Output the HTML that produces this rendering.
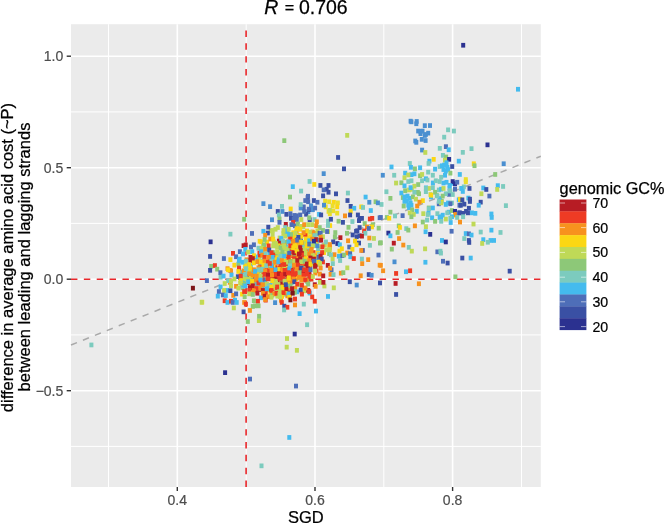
<!DOCTYPE html>
<html><head><meta charset="utf-8"><title>R = 0.706</title>
<style>
html,body{margin:0;padding:0;background:#fff;}
svg{display:block;font-family:"Liberation Sans",sans-serif;}
.tk{font-size:14px;fill:#4d4d4d;stroke:#4d4d4d;stroke-width:0.2px;}
.lg{font-size:14.2px;fill:#000;stroke:#000;stroke-width:0.2px;}
.ax{font-size:16.5px;fill:#000;stroke:#000;stroke-width:0.25px;}
</style></head><body>
<svg width="666" height="523" viewBox="0 0 666 523">
<rect width="666" height="523" fill="#fff"/>
<rect x="71.0" y="24.2" width="469.8" height="462.8" fill="#ebebeb"/>
<line x1="108.5" x2="108.5" y1="24.2" y2="487.0" stroke="#fff" stroke-width="1"/>
<line x1="246.2" x2="246.2" y1="24.2" y2="487.0" stroke="#fff" stroke-width="1"/>
<line x1="383.8" x2="383.8" y1="24.2" y2="487.0" stroke="#fff" stroke-width="1"/>
<line x1="521.5" x2="521.5" y1="24.2" y2="487.0" stroke="#fff" stroke-width="1"/>
<line x1="71.0" x2="540.8" y1="111.9" y2="111.9" stroke="#fff" stroke-width="1"/>
<line x1="71.0" x2="540.8" y1="223.4" y2="223.4" stroke="#fff" stroke-width="1"/>
<line x1="71.0" x2="540.8" y1="334.9" y2="334.9" stroke="#fff" stroke-width="1"/>
<line x1="71.0" x2="540.8" y1="446.4" y2="446.4" stroke="#fff" stroke-width="1"/>
<line x1="177.3" x2="177.3" y1="24.2" y2="487.0" stroke="#fff" stroke-width="1.6"/>
<line x1="315.0" x2="315.0" y1="24.2" y2="487.0" stroke="#fff" stroke-width="1.6"/>
<line x1="452.6" x2="452.6" y1="24.2" y2="487.0" stroke="#fff" stroke-width="1.6"/>
<line x1="71.0" x2="540.8" y1="56.2" y2="56.2" stroke="#fff" stroke-width="1.6"/>
<line x1="71.0" x2="540.8" y1="167.7" y2="167.7" stroke="#fff" stroke-width="1.6"/>
<line x1="71.0" x2="540.8" y1="279.2" y2="279.2" stroke="#fff" stroke-width="1.6"/>
<line x1="71.0" x2="540.8" y1="390.7" y2="390.7" stroke="#fff" stroke-width="1.6"/>
<line x1="246.1" x2="246.1" y1="487.0" y2="24.2" stroke="#e8262a" stroke-width="1.6" stroke-dasharray="6.43 6.43"/>
<line x1="71.0" x2="540.8" y1="279.2" y2="279.2" stroke="#e8262a" stroke-width="1.6" stroke-dasharray="6.43 6.43"/>
<line x1="71.0" x2="540.8" y1="345.0" y2="156.2" stroke="#a9a9a9" stroke-width="1.5" stroke-dasharray="6.43 6.43"/>
<g shape-rendering="auto">
<rect x="282.2" y="274.8" width="4.0" height="4.7" fill="#f7921e"/>
<rect x="302.7" y="270.7" width="4.0" height="4.7" fill="#b71c24"/>
<rect x="302.7" y="269.7" width="4.0" height="4.7" fill="#ee3b24"/>
<rect x="280.8" y="272.0" width="4.0" height="4.7" fill="#ee3b24"/>
<rect x="261.0" y="282.1" width="4.0" height="4.7" fill="#ee3b24"/>
<rect x="289.5" y="280.6" width="4.0" height="4.7" fill="#7ccbbe"/>
<rect x="272.7" y="268.5" width="4.0" height="4.7" fill="#8dc878"/>
<rect x="314.4" y="268.5" width="4.0" height="4.7" fill="#ee3b24"/>
<rect x="290.6" y="272.0" width="4.0" height="4.7" fill="#b71c24"/>
<rect x="289.8" y="264.0" width="4.0" height="4.7" fill="#f7921e"/>
<rect x="276.7" y="265.4" width="4.0" height="4.7" fill="#f7921e"/>
<rect x="290.9" y="269.8" width="4.0" height="4.7" fill="#ee3b24"/>
<rect x="279.3" y="263.0" width="4.0" height="4.7" fill="#b71c24"/>
<rect x="271.8" y="267.9" width="4.0" height="4.7" fill="#ee3b24"/>
<rect x="292.4" y="255.7" width="4.0" height="4.7" fill="#ee3b24"/>
<rect x="269.7" y="268.4" width="4.0" height="4.7" fill="#44bbee"/>
<rect x="284.4" y="263.1" width="4.0" height="4.7" fill="#3a50a4"/>
<rect x="297.5" y="273.2" width="4.0" height="4.7" fill="#fbd714"/>
<rect x="296.0" y="275.5" width="4.0" height="4.7" fill="#ee3b24"/>
<rect x="273.5" y="259.8" width="4.0" height="4.7" fill="#f7921e"/>
<rect x="295.2" y="262.6" width="4.0" height="4.7" fill="#fbd714"/>
<rect x="269.6" y="266.9" width="4.0" height="4.7" fill="#f7921e"/>
<rect x="305.3" y="248.5" width="4.0" height="4.7" fill="#f7921e"/>
<rect x="283.3" y="267.7" width="4.0" height="4.7" fill="#fbd714"/>
<rect x="257.5" y="254.4" width="4.0" height="4.7" fill="#bfd957"/>
<rect x="282.8" y="278.4" width="4.0" height="4.7" fill="#f7921e"/>
<rect x="302.5" y="267.5" width="4.0" height="4.7" fill="#ee3b24"/>
<rect x="289.9" y="270.8" width="4.0" height="4.7" fill="#fbd714"/>
<rect x="293.8" y="272.6" width="4.0" height="4.7" fill="#b71c24"/>
<rect x="290.2" y="266.3" width="4.0" height="4.7" fill="#f7921e"/>
<rect x="256.4" y="270.5" width="4.0" height="4.7" fill="#bfd957"/>
<rect x="294.0" y="262.8" width="4.0" height="4.7" fill="#b71c24"/>
<rect x="266.3" y="287.4" width="4.0" height="4.7" fill="#8dc878"/>
<rect x="291.4" y="272.8" width="4.0" height="4.7" fill="#ee3b24"/>
<rect x="287.8" y="278.9" width="4.0" height="4.7" fill="#f7921e"/>
<rect x="285.9" y="270.4" width="4.0" height="4.7" fill="#b71c24"/>
<rect x="272.8" y="280.4" width="4.0" height="4.7" fill="#8dc878"/>
<rect x="279.4" y="261.6" width="4.0" height="4.7" fill="#f7921e"/>
<rect x="283.8" y="267.6" width="4.0" height="4.7" fill="#44bbee"/>
<rect x="291.7" y="251.6" width="4.0" height="4.7" fill="#bfd957"/>
<rect x="274.2" y="277.5" width="4.0" height="4.7" fill="#ee3b24"/>
<rect x="282.4" y="268.1" width="4.0" height="4.7" fill="#ee3b24"/>
<rect x="288.3" y="274.0" width="4.0" height="4.7" fill="#b71c24"/>
<rect x="286.3" y="269.6" width="4.0" height="4.7" fill="#ee3b24"/>
<rect x="297.5" y="272.0" width="4.0" height="4.7" fill="#ee3b24"/>
<rect x="300.6" y="258.3" width="4.0" height="4.7" fill="#ee3b24"/>
<rect x="285.8" y="277.5" width="4.0" height="4.7" fill="#b71c24"/>
<rect x="306.9" y="276.7" width="4.0" height="4.7" fill="#3a50a4"/>
<rect x="269.1" y="275.2" width="4.0" height="4.7" fill="#ee3b24"/>
<rect x="297.0" y="272.0" width="4.0" height="4.7" fill="#ee3b24"/>
<rect x="290.2" y="264.4" width="4.0" height="4.7" fill="#ee3b24"/>
<rect x="303.5" y="262.8" width="4.0" height="4.7" fill="#ee3b24"/>
<rect x="282.6" y="269.8" width="4.0" height="4.7" fill="#f7921e"/>
<rect x="315.7" y="261.2" width="4.0" height="4.7" fill="#fbd714"/>
<rect x="285.0" y="277.9" width="4.0" height="4.7" fill="#ee3b24"/>
<rect x="288.5" y="258.8" width="4.0" height="4.7" fill="#fbd714"/>
<rect x="280.9" y="276.0" width="4.0" height="4.7" fill="#bfd957"/>
<rect x="315.2" y="262.0" width="4.0" height="4.7" fill="#bfd957"/>
<rect x="296.2" y="254.9" width="4.0" height="4.7" fill="#ee3b24"/>
<rect x="272.0" y="271.7" width="4.0" height="4.7" fill="#ee3b24"/>
<rect x="298.0" y="268.3" width="4.0" height="4.7" fill="#ee3b24"/>
<rect x="272.7" y="252.7" width="4.0" height="4.7" fill="#f7921e"/>
<rect x="327.2" y="251.3" width="4.0" height="4.7" fill="#8dc878"/>
<rect x="279.0" y="275.6" width="4.0" height="4.7" fill="#ee3b24"/>
<rect x="289.3" y="274.3" width="4.0" height="4.7" fill="#f7921e"/>
<rect x="309.3" y="255.3" width="4.0" height="4.7" fill="#f7921e"/>
<rect x="270.6" y="260.5" width="4.0" height="4.7" fill="#ee3b24"/>
<rect x="268.5" y="257.7" width="4.0" height="4.7" fill="#bfd957"/>
<rect x="286.0" y="260.0" width="4.0" height="4.7" fill="#ee3b24"/>
<rect x="289.3" y="261.6" width="4.0" height="4.7" fill="#bfd957"/>
<rect x="300.8" y="265.0" width="4.0" height="4.7" fill="#b71c24"/>
<rect x="308.8" y="260.4" width="4.0" height="4.7" fill="#ee3b24"/>
<rect x="292.0" y="271.8" width="4.0" height="4.7" fill="#44bbee"/>
<rect x="288.9" y="264.6" width="4.0" height="4.7" fill="#bfd957"/>
<rect x="307.8" y="263.6" width="4.0" height="4.7" fill="#b71c24"/>
<rect x="278.4" y="269.9" width="4.0" height="4.7" fill="#ee3b24"/>
<rect x="307.4" y="262.9" width="4.0" height="4.7" fill="#f7921e"/>
<rect x="300.6" y="262.9" width="4.0" height="4.7" fill="#44bbee"/>
<rect x="290.8" y="263.5" width="4.0" height="4.7" fill="#ee3b24"/>
<rect x="283.0" y="276.3" width="4.0" height="4.7" fill="#f7921e"/>
<rect x="285.1" y="278.6" width="4.0" height="4.7" fill="#ee3b24"/>
<rect x="297.8" y="262.9" width="4.0" height="4.7" fill="#f7921e"/>
<rect x="257.9" y="266.4" width="4.0" height="4.7" fill="#b71c24"/>
<rect x="301.4" y="261.5" width="4.0" height="4.7" fill="#f7921e"/>
<rect x="283.1" y="270.0" width="4.0" height="4.7" fill="#f7921e"/>
<rect x="286.5" y="270.2" width="4.0" height="4.7" fill="#bfd957"/>
<rect x="294.0" y="276.4" width="4.0" height="4.7" fill="#fbd714"/>
<rect x="273.5" y="269.7" width="4.0" height="4.7" fill="#f7921e"/>
<rect x="261.3" y="269.8" width="4.0" height="4.7" fill="#ee3b24"/>
<rect x="275.5" y="269.5" width="4.0" height="4.7" fill="#ee3b24"/>
<rect x="288.5" y="259.2" width="4.0" height="4.7" fill="#f7921e"/>
<rect x="288.1" y="250.6" width="4.0" height="4.7" fill="#f7921e"/>
<rect x="272.5" y="266.0" width="4.0" height="4.7" fill="#f7921e"/>
<rect x="280.2" y="262.2" width="4.0" height="4.7" fill="#f7921e"/>
<rect x="250.6" y="279.8" width="4.0" height="4.7" fill="#fbd714"/>
<rect x="311.6" y="250.2" width="4.0" height="4.7" fill="#ee3b24"/>
<rect x="252.5" y="269.3" width="4.0" height="4.7" fill="#bfd957"/>
<rect x="291.0" y="271.9" width="4.0" height="4.7" fill="#f7921e"/>
<rect x="296.0" y="270.3" width="4.0" height="4.7" fill="#ee3b24"/>
<rect x="273.3" y="259.4" width="4.0" height="4.7" fill="#44bbee"/>
<rect x="299.4" y="277.9" width="4.0" height="4.7" fill="#f7921e"/>
<rect x="305.3" y="279.2" width="4.0" height="4.7" fill="#8dc878"/>
<rect x="293.0" y="288.6" width="4.0" height="4.7" fill="#b71c24"/>
<rect x="240.7" y="281.2" width="4.0" height="4.7" fill="#bfd957"/>
<rect x="294.4" y="275.5" width="4.0" height="4.7" fill="#f7921e"/>
<rect x="280.7" y="275.5" width="4.0" height="4.7" fill="#b71c24"/>
<rect x="285.5" y="268.1" width="4.0" height="4.7" fill="#f7921e"/>
<rect x="283.3" y="270.8" width="4.0" height="4.7" fill="#b71c24"/>
<rect x="273.2" y="265.2" width="4.0" height="4.7" fill="#ee3b24"/>
<rect x="312.3" y="262.7" width="4.0" height="4.7" fill="#8dc878"/>
<rect x="295.3" y="271.7" width="4.0" height="4.7" fill="#ee3b24"/>
<rect x="288.2" y="262.6" width="4.0" height="4.7" fill="#ee3b24"/>
<rect x="256.8" y="284.5" width="4.0" height="4.7" fill="#bfd957"/>
<rect x="285.5" y="274.5" width="4.0" height="4.7" fill="#7ccbbe"/>
<rect x="265.0" y="268.4" width="4.0" height="4.7" fill="#ee3b24"/>
<rect x="307.4" y="269.7" width="4.0" height="4.7" fill="#b71c24"/>
<rect x="317.8" y="271.7" width="4.0" height="4.7" fill="#f7921e"/>
<rect x="288.0" y="265.9" width="4.0" height="4.7" fill="#bfd957"/>
<rect x="313.3" y="270.7" width="4.0" height="4.7" fill="#f7921e"/>
<rect x="275.9" y="280.8" width="4.0" height="4.7" fill="#7ccbbe"/>
<rect x="285.1" y="274.2" width="4.0" height="4.7" fill="#f7921e"/>
<rect x="286.5" y="273.6" width="4.0" height="4.7" fill="#ee3b24"/>
<rect x="295.6" y="269.4" width="4.0" height="4.7" fill="#b71c24"/>
<rect x="277.4" y="284.8" width="4.0" height="4.7" fill="#ee3b24"/>
<rect x="276.6" y="271.6" width="4.0" height="4.7" fill="#b71c24"/>
<rect x="297.3" y="268.0" width="4.0" height="4.7" fill="#ee3b24"/>
<rect x="284.0" y="259.5" width="4.0" height="4.7" fill="#ee3b24"/>
<rect x="251.4" y="280.0" width="4.0" height="4.7" fill="#ee3b24"/>
<rect x="292.7" y="260.1" width="4.0" height="4.7" fill="#f7921e"/>
<rect x="293.6" y="260.8" width="4.0" height="4.7" fill="#f7921e"/>
<rect x="269.7" y="250.9" width="4.0" height="4.7" fill="#b71c24"/>
<rect x="297.6" y="255.7" width="4.0" height="4.7" fill="#f7921e"/>
<rect x="274.5" y="276.4" width="4.0" height="4.7" fill="#ee3b24"/>
<rect x="289.9" y="271.2" width="4.0" height="4.7" fill="#fbd714"/>
<rect x="285.7" y="274.7" width="4.0" height="4.7" fill="#ee3b24"/>
<rect x="302.5" y="251.9" width="4.0" height="4.7" fill="#f7921e"/>
<rect x="283.8" y="276.3" width="4.0" height="4.7" fill="#ee3b24"/>
<rect x="277.5" y="272.7" width="4.0" height="4.7" fill="#f7921e"/>
<rect x="282.8" y="291.8" width="4.0" height="4.7" fill="#8dc878"/>
<rect x="275.3" y="270.1" width="4.0" height="4.7" fill="#8dc878"/>
<rect x="280.9" y="278.1" width="4.0" height="4.7" fill="#ee3b24"/>
<rect x="273.5" y="278.8" width="4.0" height="4.7" fill="#f7921e"/>
<rect x="291.4" y="278.0" width="4.0" height="4.7" fill="#ee3b24"/>
<rect x="285.4" y="273.4" width="4.0" height="4.7" fill="#b71c24"/>
<rect x="289.1" y="269.5" width="4.0" height="4.7" fill="#b71c24"/>
<rect x="288.1" y="280.3" width="4.0" height="4.7" fill="#f7921e"/>
<rect x="286.1" y="257.3" width="4.0" height="4.7" fill="#fbd714"/>
<rect x="296.8" y="261.6" width="4.0" height="4.7" fill="#b71c24"/>
<rect x="294.5" y="267.4" width="4.0" height="4.7" fill="#fbd714"/>
<rect x="283.2" y="268.3" width="4.0" height="4.7" fill="#bfd957"/>
<rect x="302.4" y="258.8" width="4.0" height="4.7" fill="#fbd714"/>
<rect x="289.1" y="264.7" width="4.0" height="4.7" fill="#f7921e"/>
<rect x="257.5" y="275.2" width="4.0" height="4.7" fill="#bfd957"/>
<rect x="295.2" y="257.8" width="4.0" height="4.7" fill="#44bbee"/>
<rect x="276.6" y="259.8" width="4.0" height="4.7" fill="#ee3b24"/>
<rect x="293.9" y="268.9" width="4.0" height="4.7" fill="#b71c24"/>
<rect x="308.5" y="274.7" width="4.0" height="4.7" fill="#f7921e"/>
<rect x="271.4" y="264.2" width="4.0" height="4.7" fill="#fbd714"/>
<rect x="284.8" y="270.0" width="4.0" height="4.7" fill="#bfd957"/>
<rect x="285.8" y="259.7" width="4.0" height="4.7" fill="#f7921e"/>
<rect x="283.0" y="267.7" width="4.0" height="4.7" fill="#fbd714"/>
<rect x="285.9" y="273.0" width="4.0" height="4.7" fill="#ee3b24"/>
<rect x="284.7" y="264.3" width="4.0" height="4.7" fill="#fbd714"/>
<rect x="303.3" y="264.5" width="4.0" height="4.7" fill="#b71c24"/>
<rect x="263.4" y="276.1" width="4.0" height="4.7" fill="#fbd714"/>
<rect x="270.0" y="264.9" width="4.0" height="4.7" fill="#ee3b24"/>
<rect x="292.9" y="273.4" width="4.0" height="4.7" fill="#fbd714"/>
<rect x="279.5" y="281.3" width="4.0" height="4.7" fill="#ee3b24"/>
<rect x="297.0" y="269.8" width="4.0" height="4.7" fill="#f7921e"/>
<rect x="278.0" y="259.5" width="4.0" height="4.7" fill="#ee3b24"/>
<rect x="269.3" y="272.2" width="4.0" height="4.7" fill="#f7921e"/>
<rect x="309.4" y="276.8" width="4.0" height="4.7" fill="#ee3b24"/>
<rect x="320.9" y="259.6" width="4.0" height="4.7" fill="#ee3b24"/>
<rect x="259.1" y="279.3" width="4.0" height="4.7" fill="#8dc878"/>
<rect x="274.7" y="274.1" width="4.0" height="4.7" fill="#ee3b24"/>
<rect x="295.7" y="265.7" width="4.0" height="4.7" fill="#f7921e"/>
<rect x="297.5" y="275.2" width="4.0" height="4.7" fill="#8dc878"/>
<rect x="304.7" y="277.3" width="4.0" height="4.7" fill="#f7921e"/>
<rect x="303.7" y="257.4" width="4.0" height="4.7" fill="#ee3b24"/>
<rect x="299.9" y="260.9" width="4.0" height="4.7" fill="#ee3b24"/>
<rect x="303.4" y="266.2" width="4.0" height="4.7" fill="#f7921e"/>
<rect x="283.4" y="274.6" width="4.0" height="4.7" fill="#b71c24"/>
<rect x="274.4" y="286.9" width="4.0" height="4.7" fill="#ee3b24"/>
<rect x="286.1" y="253.5" width="4.0" height="4.7" fill="#ee3b24"/>
<rect x="307.2" y="259.3" width="4.0" height="4.7" fill="#44bbee"/>
<rect x="282.4" y="278.3" width="4.0" height="4.7" fill="#b71c24"/>
<rect x="306.0" y="265.4" width="4.0" height="4.7" fill="#b71c24"/>
<rect x="275.2" y="274.9" width="4.0" height="4.7" fill="#ee3b24"/>
<rect x="308.8" y="274.4" width="4.0" height="4.7" fill="#ee3b24"/>
<rect x="296.4" y="264.9" width="4.0" height="4.7" fill="#ee3b24"/>
<rect x="276.3" y="271.3" width="4.0" height="4.7" fill="#b71c24"/>
<rect x="316.0" y="258.6" width="4.0" height="4.7" fill="#bfd957"/>
<rect x="263.4" y="260.7" width="4.0" height="4.7" fill="#7ccbbe"/>
<rect x="263.2" y="270.3" width="4.0" height="4.7" fill="#ee3b24"/>
<rect x="284.2" y="260.9" width="4.0" height="4.7" fill="#fbd714"/>
<rect x="278.4" y="265.8" width="4.0" height="4.7" fill="#ee3b24"/>
<rect x="293.0" y="266.2" width="4.0" height="4.7" fill="#f7921e"/>
<rect x="279.0" y="277.0" width="4.0" height="4.7" fill="#fbd714"/>
<rect x="297.5" y="266.3" width="4.0" height="4.7" fill="#f7921e"/>
<rect x="280.0" y="281.1" width="4.0" height="4.7" fill="#b71c24"/>
<rect x="290.4" y="273.1" width="4.0" height="4.7" fill="#ee3b24"/>
<rect x="300.6" y="261.1" width="4.0" height="4.7" fill="#ee3b24"/>
<rect x="327.9" y="245.1" width="4.0" height="4.7" fill="#f7921e"/>
<rect x="292.3" y="272.6" width="4.0" height="4.7" fill="#ee3b24"/>
<rect x="282.4" y="273.5" width="4.0" height="4.7" fill="#ee3b24"/>
<rect x="285.0" y="280.8" width="4.0" height="4.7" fill="#44bbee"/>
<rect x="286.0" y="261.0" width="4.0" height="4.7" fill="#b71c24"/>
<rect x="271.6" y="271.4" width="4.0" height="4.7" fill="#b71c24"/>
<rect x="297.2" y="269.9" width="4.0" height="4.7" fill="#8dc878"/>
<rect x="298.5" y="274.1" width="4.0" height="4.7" fill="#f7921e"/>
<rect x="292.8" y="263.8" width="4.0" height="4.7" fill="#ee3b24"/>
<rect x="286.1" y="278.1" width="4.0" height="4.7" fill="#f7921e"/>
<rect x="313.9" y="259.1" width="4.0" height="4.7" fill="#44bbee"/>
<rect x="289.8" y="269.1" width="4.0" height="4.7" fill="#fbd714"/>
<rect x="299.5" y="261.0" width="4.0" height="4.7" fill="#f7921e"/>
<rect x="301.0" y="266.5" width="4.0" height="4.7" fill="#7ccbbe"/>
<rect x="299.5" y="252.1" width="4.0" height="4.7" fill="#8dc878"/>
<rect x="286.1" y="273.7" width="4.0" height="4.7" fill="#ee3b24"/>
<rect x="263.5" y="272.6" width="4.0" height="4.7" fill="#7ccbbe"/>
<rect x="282.2" y="258.5" width="4.0" height="4.7" fill="#fbd714"/>
<rect x="267.7" y="276.3" width="4.0" height="4.7" fill="#ee3b24"/>
<rect x="288.2" y="263.2" width="4.0" height="4.7" fill="#7ccbbe"/>
<rect x="278.2" y="265.6" width="4.0" height="4.7" fill="#ee3b24"/>
<rect x="285.8" y="281.7" width="4.0" height="4.7" fill="#fbd714"/>
<rect x="290.4" y="270.8" width="4.0" height="4.7" fill="#f7921e"/>
<rect x="273.1" y="268.2" width="4.0" height="4.7" fill="#ee3b24"/>
<rect x="284.2" y="269.3" width="4.0" height="4.7" fill="#b71c24"/>
<rect x="249.2" y="282.6" width="4.0" height="4.7" fill="#f7921e"/>
<rect x="298.7" y="260.6" width="4.0" height="4.7" fill="#ee3b24"/>
<rect x="286.7" y="290.9" width="4.0" height="4.7" fill="#fbd714"/>
<rect x="284.9" y="271.5" width="4.0" height="4.7" fill="#f7921e"/>
<rect x="278.8" y="263.3" width="4.0" height="4.7" fill="#ee3b24"/>
<rect x="269.1" y="256.5" width="4.0" height="4.7" fill="#ee3b24"/>
<rect x="299.3" y="268.5" width="4.0" height="4.7" fill="#b71c24"/>
<rect x="281.9" y="265.4" width="4.0" height="4.7" fill="#bfd957"/>
<rect x="284.8" y="259.9" width="4.0" height="4.7" fill="#ee3b24"/>
<rect x="298.7" y="265.6" width="4.0" height="4.7" fill="#bfd957"/>
<rect x="287.3" y="275.3" width="4.0" height="4.7" fill="#fbd714"/>
<rect x="275.7" y="291.8" width="4.0" height="4.7" fill="#f7921e"/>
<rect x="290.1" y="274.3" width="4.0" height="4.7" fill="#b71c24"/>
<rect x="267.4" y="255.8" width="4.0" height="4.7" fill="#ee3b24"/>
<rect x="277.9" y="275.0" width="4.0" height="4.7" fill="#8dc878"/>
<rect x="289.1" y="271.1" width="4.0" height="4.7" fill="#ee3b24"/>
<rect x="260.9" y="286.1" width="4.0" height="4.7" fill="#44bbee"/>
<rect x="280.4" y="241.8" width="4.0" height="4.7" fill="#7ccbbe"/>
<rect x="281.4" y="275.4" width="4.0" height="4.7" fill="#7ccbbe"/>
<rect x="285.9" y="267.5" width="4.0" height="4.7" fill="#f7921e"/>
<rect x="275.5" y="277.5" width="4.0" height="4.7" fill="#b71c24"/>
<rect x="286.6" y="270.1" width="4.0" height="4.7" fill="#ee3b24"/>
<rect x="263.7" y="291.2" width="4.0" height="4.7" fill="#ee3b24"/>
<rect x="296.0" y="266.3" width="4.0" height="4.7" fill="#b71c24"/>
<rect x="298.1" y="253.0" width="4.0" height="4.7" fill="#b71c24"/>
<rect x="302.2" y="269.2" width="4.0" height="4.7" fill="#b71c24"/>
<rect x="294.6" y="265.2" width="4.0" height="4.7" fill="#b71c24"/>
<rect x="289.0" y="267.8" width="4.0" height="4.7" fill="#b71c24"/>
<rect x="295.7" y="254.3" width="4.0" height="4.7" fill="#ee3b24"/>
<rect x="291.3" y="269.2" width="4.0" height="4.7" fill="#7ccbbe"/>
<rect x="284.9" y="283.9" width="4.0" height="4.7" fill="#44bbee"/>
<rect x="279.7" y="276.7" width="4.0" height="4.7" fill="#8dc878"/>
<rect x="277.3" y="267.1" width="4.0" height="4.7" fill="#fbd714"/>
<rect x="290.1" y="250.0" width="4.0" height="4.7" fill="#bfd957"/>
<rect x="296.2" y="226.5" width="4.0" height="4.7" fill="#f7921e"/>
<rect x="298.1" y="242.6" width="4.0" height="4.7" fill="#bfd957"/>
<rect x="257.9" y="252.6" width="4.0" height="4.7" fill="#ee3b24"/>
<rect x="286.4" y="248.8" width="4.0" height="4.7" fill="#8dc878"/>
<rect x="260.6" y="249.9" width="4.0" height="4.7" fill="#bfd957"/>
<rect x="303.0" y="230.6" width="4.0" height="4.7" fill="#44bbee"/>
<rect x="297.9" y="232.9" width="4.0" height="4.7" fill="#fbd714"/>
<rect x="289.0" y="251.2" width="4.0" height="4.7" fill="#7ccbbe"/>
<rect x="303.7" y="244.7" width="4.0" height="4.7" fill="#7ccbbe"/>
<rect x="295.1" y="246.4" width="4.0" height="4.7" fill="#bfd957"/>
<rect x="282.4" y="243.5" width="4.0" height="4.7" fill="#3a50a4"/>
<rect x="328.1" y="223.2" width="4.0" height="4.7" fill="#fbd714"/>
<rect x="300.8" y="244.4" width="4.0" height="4.7" fill="#8dc878"/>
<rect x="290.9" y="236.3" width="4.0" height="4.7" fill="#bfd957"/>
<rect x="276.9" y="251.8" width="4.0" height="4.7" fill="#f7921e"/>
<rect x="294.6" y="228.9" width="4.0" height="4.7" fill="#f7921e"/>
<rect x="315.8" y="250.4" width="4.0" height="4.7" fill="#fbd714"/>
<rect x="281.8" y="242.8" width="4.0" height="4.7" fill="#7ccbbe"/>
<rect x="298.5" y="248.5" width="4.0" height="4.7" fill="#fbd714"/>
<rect x="312.8" y="253.8" width="4.0" height="4.7" fill="#f7921e"/>
<rect x="288.0" y="251.6" width="4.0" height="4.7" fill="#3a50a4"/>
<rect x="284.1" y="245.1" width="4.0" height="4.7" fill="#44bbee"/>
<rect x="268.7" y="228.6" width="4.0" height="4.7" fill="#bfd957"/>
<rect x="267.6" y="250.3" width="4.0" height="4.7" fill="#44bbee"/>
<rect x="298.7" y="241.9" width="4.0" height="4.7" fill="#fbd714"/>
<rect x="302.1" y="245.9" width="4.0" height="4.7" fill="#3a50a4"/>
<rect x="265.0" y="239.7" width="4.0" height="4.7" fill="#fbd714"/>
<rect x="305.9" y="235.7" width="4.0" height="4.7" fill="#fbd714"/>
<rect x="301.3" y="224.5" width="4.0" height="4.7" fill="#bfd957"/>
<rect x="277.8" y="240.4" width="4.0" height="4.7" fill="#bfd957"/>
<rect x="289.4" y="247.6" width="4.0" height="4.7" fill="#bfd957"/>
<rect x="294.4" y="254.1" width="4.0" height="4.7" fill="#f7921e"/>
<rect x="295.7" y="244.7" width="4.0" height="4.7" fill="#fbd714"/>
<rect x="290.8" y="239.9" width="4.0" height="4.7" fill="#fbd714"/>
<rect x="302.7" y="255.4" width="4.0" height="4.7" fill="#8dc878"/>
<rect x="301.4" y="244.0" width="4.0" height="4.7" fill="#fbd714"/>
<rect x="274.6" y="243.5" width="4.0" height="4.7" fill="#bfd957"/>
<rect x="306.9" y="251.8" width="4.0" height="4.7" fill="#fbd714"/>
<rect x="292.3" y="250.5" width="4.0" height="4.7" fill="#ee3b24"/>
<rect x="287.6" y="254.0" width="4.0" height="4.7" fill="#fbd714"/>
<rect x="269.1" y="255.4" width="4.0" height="4.7" fill="#3a50a4"/>
<rect x="288.5" y="248.5" width="4.0" height="4.7" fill="#7ccbbe"/>
<rect x="295.5" y="244.4" width="4.0" height="4.7" fill="#ee3b24"/>
<rect x="270.3" y="254.1" width="4.0" height="4.7" fill="#fbd714"/>
<rect x="307.4" y="236.0" width="4.0" height="4.7" fill="#bfd957"/>
<rect x="313.9" y="241.5" width="4.0" height="4.7" fill="#f7921e"/>
<rect x="300.5" y="241.0" width="4.0" height="4.7" fill="#f7921e"/>
<rect x="282.8" y="252.2" width="4.0" height="4.7" fill="#bfd957"/>
<rect x="291.2" y="253.3" width="4.0" height="4.7" fill="#ee3b24"/>
<rect x="308.5" y="247.1" width="4.0" height="4.7" fill="#44bbee"/>
<rect x="304.7" y="241.0" width="4.0" height="4.7" fill="#bfd957"/>
<rect x="333.3" y="230.2" width="4.0" height="4.7" fill="#8dc878"/>
<rect x="327.3" y="244.2" width="4.0" height="4.7" fill="#fbd714"/>
<rect x="312.2" y="234.9" width="4.0" height="4.7" fill="#44bbee"/>
<rect x="309.1" y="252.7" width="4.0" height="4.7" fill="#bfd957"/>
<rect x="271.0" y="255.8" width="4.0" height="4.7" fill="#44bbee"/>
<rect x="299.3" y="247.8" width="4.0" height="4.7" fill="#fbd714"/>
<rect x="280.3" y="245.2" width="4.0" height="4.7" fill="#bfd957"/>
<rect x="295.4" y="255.8" width="4.0" height="4.7" fill="#ee3b24"/>
<rect x="313.6" y="243.2" width="4.0" height="4.7" fill="#7ccbbe"/>
<rect x="322.8" y="242.7" width="4.0" height="4.7" fill="#bfd957"/>
<rect x="279.6" y="240.5" width="4.0" height="4.7" fill="#f7921e"/>
<rect x="289.6" y="252.0" width="4.0" height="4.7" fill="#f7921e"/>
<rect x="275.4" y="251.8" width="4.0" height="4.7" fill="#8dc878"/>
<rect x="292.0" y="244.8" width="4.0" height="4.7" fill="#f7921e"/>
<rect x="284.0" y="245.8" width="4.0" height="4.7" fill="#7ccbbe"/>
<rect x="298.1" y="234.9" width="4.0" height="4.7" fill="#bfd957"/>
<rect x="288.0" y="245.4" width="4.0" height="4.7" fill="#bfd957"/>
<rect x="289.0" y="246.0" width="4.0" height="4.7" fill="#8dc878"/>
<rect x="290.7" y="244.2" width="4.0" height="4.7" fill="#f7921e"/>
<rect x="316.2" y="246.4" width="4.0" height="4.7" fill="#7ccbbe"/>
<rect x="290.0" y="244.3" width="4.0" height="4.7" fill="#8dc878"/>
<rect x="268.5" y="260.9" width="4.0" height="4.7" fill="#bfd957"/>
<rect x="326.1" y="218.8" width="4.0" height="4.7" fill="#7ccbbe"/>
<rect x="298.9" y="238.4" width="4.0" height="4.7" fill="#3a50a4"/>
<rect x="257.5" y="250.6" width="4.0" height="4.7" fill="#ee3b24"/>
<rect x="308.4" y="253.1" width="4.0" height="4.7" fill="#ee3b24"/>
<rect x="307.8" y="244.4" width="4.0" height="4.7" fill="#7ccbbe"/>
<rect x="312.3" y="254.5" width="4.0" height="4.7" fill="#fbd714"/>
<rect x="298.3" y="239.2" width="4.0" height="4.7" fill="#8dc878"/>
<rect x="304.0" y="239.7" width="4.0" height="4.7" fill="#fbd714"/>
<rect x="281.9" y="245.5" width="4.0" height="4.7" fill="#bfd957"/>
<rect x="298.7" y="247.2" width="4.0" height="4.7" fill="#ee3b24"/>
<rect x="281.4" y="231.2" width="4.0" height="4.7" fill="#bfd957"/>
<rect x="296.6" y="239.7" width="4.0" height="4.7" fill="#8dc878"/>
<rect x="285.7" y="239.7" width="4.0" height="4.7" fill="#ee3b24"/>
<rect x="276.4" y="243.2" width="4.0" height="4.7" fill="#ee3b24"/>
<rect x="332.4" y="252.3" width="4.0" height="4.7" fill="#f7921e"/>
<rect x="273.9" y="255.4" width="4.0" height="4.7" fill="#fbd714"/>
<rect x="314.7" y="239.9" width="4.0" height="4.7" fill="#fbd714"/>
<rect x="296.5" y="235.2" width="4.0" height="4.7" fill="#bfd957"/>
<rect x="294.8" y="241.3" width="4.0" height="4.7" fill="#44bbee"/>
<rect x="294.5" y="254.6" width="4.0" height="4.7" fill="#3a50a4"/>
<rect x="276.0" y="240.9" width="4.0" height="4.7" fill="#fbd714"/>
<rect x="298.9" y="243.0" width="4.0" height="4.7" fill="#bfd957"/>
<rect x="283.1" y="240.1" width="4.0" height="4.7" fill="#8dc878"/>
<rect x="301.3" y="240.2" width="4.0" height="4.7" fill="#bfd957"/>
<rect x="293.2" y="242.6" width="4.0" height="4.7" fill="#bfd957"/>
<rect x="290.6" y="247.2" width="4.0" height="4.7" fill="#fbd714"/>
<rect x="298.2" y="253.1" width="4.0" height="4.7" fill="#f7921e"/>
<rect x="301.0" y="252.9" width="4.0" height="4.7" fill="#8dc878"/>
<rect x="318.3" y="253.3" width="4.0" height="4.7" fill="#fbd714"/>
<rect x="299.0" y="245.8" width="4.0" height="4.7" fill="#f7921e"/>
<rect x="313.1" y="231.1" width="4.0" height="4.7" fill="#fbd714"/>
<rect x="294.8" y="244.8" width="4.0" height="4.7" fill="#f7921e"/>
<rect x="282.1" y="243.0" width="4.0" height="4.7" fill="#f7921e"/>
<rect x="261.9" y="255.2" width="4.0" height="4.7" fill="#7ccbbe"/>
<rect x="295.3" y="260.1" width="4.0" height="4.7" fill="#bfd957"/>
<rect x="280.0" y="244.5" width="4.0" height="4.7" fill="#bfd957"/>
<rect x="319.3" y="244.5" width="4.0" height="4.7" fill="#bfd957"/>
<rect x="261.1" y="243.4" width="4.0" height="4.7" fill="#bfd957"/>
<rect x="301.4" y="252.5" width="4.0" height="4.7" fill="#8dc878"/>
<rect x="277.7" y="235.6" width="4.0" height="4.7" fill="#bfd957"/>
<rect x="290.4" y="250.4" width="4.0" height="4.7" fill="#bfd957"/>
<rect x="315.1" y="231.9" width="4.0" height="4.7" fill="#7ccbbe"/>
<rect x="323.9" y="239.6" width="4.0" height="4.7" fill="#7ccbbe"/>
<rect x="270.9" y="250.2" width="4.0" height="4.7" fill="#8dc878"/>
<rect x="296.1" y="247.0" width="4.0" height="4.7" fill="#bfd957"/>
<rect x="308.2" y="243.2" width="4.0" height="4.7" fill="#7ccbbe"/>
<rect x="285.2" y="231.3" width="4.0" height="4.7" fill="#7ccbbe"/>
<rect x="293.1" y="253.6" width="4.0" height="4.7" fill="#8dc878"/>
<rect x="299.4" y="233.9" width="4.0" height="4.7" fill="#fbd714"/>
<rect x="270.6" y="232.2" width="4.0" height="4.7" fill="#bfd957"/>
<rect x="296.9" y="242.4" width="4.0" height="4.7" fill="#fbd714"/>
<rect x="297.2" y="255.9" width="4.0" height="4.7" fill="#ee3b24"/>
<rect x="294.7" y="236.9" width="4.0" height="4.7" fill="#ee3b24"/>
<rect x="289.7" y="249.5" width="4.0" height="4.7" fill="#ee3b24"/>
<rect x="279.3" y="237.6" width="4.0" height="4.7" fill="#f7921e"/>
<rect x="311.7" y="239.8" width="4.0" height="4.7" fill="#44bbee"/>
<rect x="285.4" y="230.9" width="4.0" height="4.7" fill="#8dc878"/>
<rect x="291.9" y="234.4" width="4.0" height="4.7" fill="#fbd714"/>
<rect x="300.0" y="253.2" width="4.0" height="4.7" fill="#bfd957"/>
<rect x="302.1" y="240.2" width="4.0" height="4.7" fill="#bfd957"/>
<rect x="322.0" y="250.2" width="4.0" height="4.7" fill="#fbd714"/>
<rect x="297.3" y="244.7" width="4.0" height="4.7" fill="#bfd957"/>
<rect x="287.5" y="234.7" width="4.0" height="4.7" fill="#f7921e"/>
<rect x="294.5" y="240.9" width="4.0" height="4.7" fill="#f7921e"/>
<rect x="276.9" y="257.2" width="4.0" height="4.7" fill="#44bbee"/>
<rect x="299.3" y="241.2" width="4.0" height="4.7" fill="#ee3b24"/>
<rect x="326.0" y="229.3" width="4.0" height="4.7" fill="#bfd957"/>
<rect x="297.0" y="246.9" width="4.0" height="4.7" fill="#bfd957"/>
<rect x="310.8" y="229.7" width="4.0" height="4.7" fill="#f7921e"/>
<rect x="304.6" y="232.5" width="4.0" height="4.7" fill="#fbd714"/>
<rect x="300.5" y="244.8" width="4.0" height="4.7" fill="#7ccbbe"/>
<rect x="298.7" y="249.5" width="4.0" height="4.7" fill="#8dc878"/>
<rect x="306.5" y="242.6" width="4.0" height="4.7" fill="#fbd714"/>
<rect x="291.9" y="237.0" width="4.0" height="4.7" fill="#fbd714"/>
<rect x="312.3" y="238.9" width="4.0" height="4.7" fill="#44bbee"/>
<rect x="292.2" y="242.8" width="4.0" height="4.7" fill="#fbd714"/>
<rect x="291.3" y="217.5" width="4.0" height="4.7" fill="#3a50a4"/>
<rect x="301.2" y="205.1" width="4.0" height="4.7" fill="#3a50a4"/>
<rect x="306.3" y="209.4" width="4.0" height="4.7" fill="#4a8fd0"/>
<rect x="304.2" y="211.9" width="4.0" height="4.7" fill="#3a50a4"/>
<rect x="305.7" y="195.2" width="4.0" height="4.7" fill="#3a50a4"/>
<rect x="294.7" y="213.4" width="4.0" height="4.7" fill="#4e6eb8"/>
<rect x="307.7" y="217.4" width="4.0" height="4.7" fill="#3a50a4"/>
<rect x="307.1" y="207.2" width="4.0" height="4.7" fill="#2b3190"/>
<rect x="253.5" y="279.9" width="4.0" height="4.7" fill="#8dc878"/>
<rect x="250.2" y="274.6" width="4.0" height="4.7" fill="#8dc878"/>
<rect x="270.4" y="278.4" width="4.0" height="4.7" fill="#8dc878"/>
<rect x="258.2" y="261.0" width="4.0" height="4.7" fill="#44bbee"/>
<rect x="246.8" y="280.3" width="4.0" height="4.7" fill="#b71c24"/>
<rect x="272.9" y="279.9" width="4.0" height="4.7" fill="#f7921e"/>
<rect x="257.1" y="279.9" width="4.0" height="4.7" fill="#b71c24"/>
<rect x="245.2" y="275.3" width="4.0" height="4.7" fill="#b71c24"/>
<rect x="256.1" y="283.2" width="4.0" height="4.7" fill="#bfd957"/>
<rect x="255.5" y="258.8" width="4.0" height="4.7" fill="#8dc878"/>
<rect x="249.8" y="281.0" width="4.0" height="4.7" fill="#f7921e"/>
<rect x="263.1" y="261.4" width="4.0" height="4.7" fill="#7ccbbe"/>
<rect x="260.2" y="281.0" width="4.0" height="4.7" fill="#7ccbbe"/>
<rect x="250.4" y="272.3" width="4.0" height="4.7" fill="#44bbee"/>
<rect x="260.5" y="268.4" width="4.0" height="4.7" fill="#f7921e"/>
<rect x="250.0" y="287.6" width="4.0" height="4.7" fill="#fbd714"/>
<rect x="258.3" y="277.3" width="4.0" height="4.7" fill="#ee3b24"/>
<rect x="249.4" y="284.2" width="4.0" height="4.7" fill="#f7921e"/>
<rect x="251.9" y="279.2" width="4.0" height="4.7" fill="#4e6eb8"/>
<rect x="254.4" y="269.7" width="4.0" height="4.7" fill="#4e6eb8"/>
<rect x="262.9" y="277.4" width="4.0" height="4.7" fill="#4e6eb8"/>
<rect x="259.5" y="259.1" width="4.0" height="4.7" fill="#44bbee"/>
<rect x="259.7" y="284.7" width="4.0" height="4.7" fill="#f7921e"/>
<rect x="257.7" y="281.6" width="4.0" height="4.7" fill="#f7921e"/>
<rect x="240.7" y="285.5" width="4.0" height="4.7" fill="#8dc878"/>
<rect x="240.9" y="276.2" width="4.0" height="4.7" fill="#44bbee"/>
<rect x="263.6" y="281.4" width="4.0" height="4.7" fill="#44bbee"/>
<rect x="253.8" y="254.6" width="4.0" height="4.7" fill="#44bbee"/>
<rect x="240.1" y="269.8" width="4.0" height="4.7" fill="#44bbee"/>
<rect x="257.1" y="287.2" width="4.0" height="4.7" fill="#b71c24"/>
<rect x="257.3" y="259.7" width="4.0" height="4.7" fill="#fbd714"/>
<rect x="248.9" y="263.3" width="4.0" height="4.7" fill="#44bbee"/>
<rect x="249.6" y="286.1" width="4.0" height="4.7" fill="#f7921e"/>
<rect x="239.7" y="283.9" width="4.0" height="4.7" fill="#7ccbbe"/>
<rect x="249.8" y="269.7" width="4.0" height="4.7" fill="#44bbee"/>
<rect x="241.6" y="279.5" width="4.0" height="4.7" fill="#44bbee"/>
<rect x="244.6" y="257.4" width="4.0" height="4.7" fill="#f7921e"/>
<rect x="245.2" y="262.8" width="4.0" height="4.7" fill="#44bbee"/>
<rect x="227.9" y="280.0" width="4.0" height="4.7" fill="#f7921e"/>
<rect x="249.3" y="273.3" width="4.0" height="4.7" fill="#fbd714"/>
<rect x="266.3" y="267.7" width="4.0" height="4.7" fill="#f7921e"/>
<rect x="243.9" y="270.7" width="4.0" height="4.7" fill="#7ccbbe"/>
<rect x="240.8" y="275.2" width="4.0" height="4.7" fill="#fbd714"/>
<rect x="244.8" y="274.3" width="4.0" height="4.7" fill="#4e6eb8"/>
<rect x="258.8" y="285.9" width="4.0" height="4.7" fill="#44bbee"/>
<rect x="255.4" y="269.1" width="4.0" height="4.7" fill="#4e6eb8"/>
<rect x="252.9" y="276.4" width="4.0" height="4.7" fill="#ee3b24"/>
<rect x="253.7" y="274.7" width="4.0" height="4.7" fill="#44bbee"/>
<rect x="241.4" y="282.6" width="4.0" height="4.7" fill="#44bbee"/>
<rect x="254.3" y="280.0" width="4.0" height="4.7" fill="#7ccbbe"/>
<rect x="266.4" y="267.6" width="4.0" height="4.7" fill="#ee3b24"/>
<rect x="258.2" y="264.7" width="4.0" height="4.7" fill="#ee3b24"/>
<rect x="266.9" y="282.6" width="4.0" height="4.7" fill="#fbd714"/>
<rect x="247.5" y="267.6" width="4.0" height="4.7" fill="#bfd957"/>
<rect x="258.9" y="295.4" width="4.0" height="4.7" fill="#44bbee"/>
<rect x="243.1" y="263.3" width="4.0" height="4.7" fill="#fbd714"/>
<rect x="246.8" y="276.6" width="4.0" height="4.7" fill="#bfd957"/>
<rect x="268.4" y="283.1" width="4.0" height="4.7" fill="#44bbee"/>
<rect x="259.7" y="267.2" width="4.0" height="4.7" fill="#44bbee"/>
<rect x="254.8" y="283.0" width="4.0" height="4.7" fill="#f7921e"/>
<rect x="271.0" y="271.0" width="4.0" height="4.7" fill="#ee3b24"/>
<rect x="255.3" y="281.1" width="4.0" height="4.7" fill="#44bbee"/>
<rect x="242.2" y="281.4" width="4.0" height="4.7" fill="#8dc878"/>
<rect x="240.1" y="291.8" width="4.0" height="4.7" fill="#fbd714"/>
<rect x="272.6" y="276.3" width="4.0" height="4.7" fill="#b71c24"/>
<rect x="256.2" y="268.7" width="4.0" height="4.7" fill="#fbd714"/>
<rect x="253.8" y="272.7" width="4.0" height="4.7" fill="#f7921e"/>
<rect x="268.9" y="267.3" width="4.0" height="4.7" fill="#ee3b24"/>
<rect x="259.5" y="275.8" width="4.0" height="4.7" fill="#ee3b24"/>
<rect x="256.5" y="265.4" width="4.0" height="4.7" fill="#f7921e"/>
<rect x="269.6" y="262.2" width="4.0" height="4.7" fill="#f7921e"/>
<rect x="265.6" y="264.1" width="4.0" height="4.7" fill="#fbd714"/>
<rect x="244.6" y="259.2" width="4.0" height="4.7" fill="#fbd714"/>
<rect x="258.5" y="268.1" width="4.0" height="4.7" fill="#8dc878"/>
<rect x="238.8" y="273.8" width="4.0" height="4.7" fill="#44bbee"/>
<rect x="264.4" y="264.4" width="4.0" height="4.7" fill="#ee3b24"/>
<rect x="255.5" y="278.4" width="4.0" height="4.7" fill="#44bbee"/>
<rect x="265.5" y="275.3" width="4.0" height="4.7" fill="#f7921e"/>
<rect x="243.3" y="276.3" width="4.0" height="4.7" fill="#bfd957"/>
<rect x="255.7" y="272.7" width="4.0" height="4.7" fill="#fbd714"/>
<rect x="268.4" y="291.4" width="4.0" height="4.7" fill="#fbd714"/>
<rect x="293.3" y="285.8" width="4.0" height="4.7" fill="#f7921e"/>
<rect x="291.4" y="289.0" width="4.0" height="4.7" fill="#fbd714"/>
<rect x="283.8" y="288.9" width="4.0" height="4.7" fill="#fbd714"/>
<rect x="272.7" y="280.6" width="4.0" height="4.7" fill="#f7921e"/>
<rect x="302.6" y="288.5" width="4.0" height="4.7" fill="#bfd957"/>
<rect x="288.9" y="288.8" width="4.0" height="4.7" fill="#b71c24"/>
<rect x="277.0" y="287.1" width="4.0" height="4.7" fill="#8dc878"/>
<rect x="275.4" y="293.8" width="4.0" height="4.7" fill="#bfd957"/>
<rect x="287.2" y="286.6" width="4.0" height="4.7" fill="#f7921e"/>
<rect x="270.3" y="292.8" width="4.0" height="4.7" fill="#8dc878"/>
<rect x="279.0" y="298.0" width="4.0" height="4.7" fill="#f7921e"/>
<rect x="274.9" y="289.9" width="4.0" height="4.7" fill="#bfd957"/>
<rect x="306.2" y="288.0" width="4.0" height="4.7" fill="#b71c24"/>
<rect x="280.0" y="293.3" width="4.0" height="4.7" fill="#f7921e"/>
<rect x="269.0" y="286.9" width="4.0" height="4.7" fill="#b71c24"/>
<rect x="307.7" y="290.7" width="4.0" height="4.7" fill="#44bbee"/>
<rect x="281.7" y="289.4" width="4.0" height="4.7" fill="#f7921e"/>
<rect x="295.1" y="289.5" width="4.0" height="4.7" fill="#44bbee"/>
<rect x="270.1" y="286.0" width="4.0" height="4.7" fill="#b71c24"/>
<rect x="302.2" y="285.8" width="4.0" height="4.7" fill="#fbd714"/>
<rect x="270.9" y="285.2" width="4.0" height="4.7" fill="#bfd957"/>
<rect x="281.9" y="287.0" width="4.0" height="4.7" fill="#fbd714"/>
<rect x="263.1" y="292.4" width="4.0" height="4.7" fill="#ee3b24"/>
<rect x="287.6" y="290.7" width="4.0" height="4.7" fill="#b71c24"/>
<rect x="303.5" y="285.7" width="4.0" height="4.7" fill="#f7921e"/>
<rect x="296.8" y="282.2" width="4.0" height="4.7" fill="#bfd957"/>
<rect x="285.4" y="293.5" width="4.0" height="4.7" fill="#f7921e"/>
<rect x="279.8" y="294.2" width="4.0" height="4.7" fill="#fbd714"/>
<rect x="290.3" y="288.9" width="4.0" height="4.7" fill="#bfd957"/>
<rect x="292.8" y="290.0" width="4.0" height="4.7" fill="#8dc878"/>
<rect x="258.1" y="286.0" width="4.0" height="4.7" fill="#f7921e"/>
<rect x="299.8" y="289.6" width="4.0" height="4.7" fill="#bfd957"/>
<rect x="322.4" y="283.7" width="4.0" height="4.7" fill="#bfd957"/>
<rect x="280.5" y="290.9" width="4.0" height="4.7" fill="#fbd714"/>
<rect x="287.9" y="292.1" width="4.0" height="4.7" fill="#ee3b24"/>
<rect x="307.2" y="289.2" width="4.0" height="4.7" fill="#ee3b24"/>
<rect x="291.9" y="289.1" width="4.0" height="4.7" fill="#8dc878"/>
<rect x="439.7" y="198.7" width="4.0" height="4.7" fill="#8dc878"/>
<rect x="439.0" y="214.4" width="4.0" height="4.7" fill="#44bbee"/>
<rect x="459.3" y="197.8" width="4.0" height="4.7" fill="#8dc878"/>
<rect x="450.9" y="181.0" width="4.0" height="4.7" fill="#44bbee"/>
<rect x="423.9" y="189.3" width="4.0" height="4.7" fill="#7ccbbe"/>
<rect x="447.1" y="192.0" width="4.0" height="4.7" fill="#4e6eb8"/>
<rect x="437.6" y="196.2" width="4.0" height="4.7" fill="#44bbee"/>
<rect x="424.0" y="185.5" width="4.0" height="4.7" fill="#44bbee"/>
<rect x="430.1" y="215.4" width="4.0" height="4.7" fill="#44bbee"/>
<rect x="447.6" y="185.9" width="4.0" height="4.7" fill="#44bbee"/>
<rect x="426.5" y="210.7" width="4.0" height="4.7" fill="#44bbee"/>
<rect x="434.8" y="193.2" width="4.0" height="4.7" fill="#8dc878"/>
<rect x="425.8" y="212.2" width="4.0" height="4.7" fill="#7ccbbe"/>
<rect x="426.8" y="205.6" width="4.0" height="4.7" fill="#8dc878"/>
<rect x="459.4" y="186.0" width="4.0" height="4.7" fill="#7ccbbe"/>
<rect x="436.8" y="201.5" width="4.0" height="4.7" fill="#4e6eb8"/>
<rect x="430.9" y="180.6" width="4.0" height="4.7" fill="#44bbee"/>
<rect x="409.8" y="187.0" width="4.0" height="4.7" fill="#bfd957"/>
<rect x="429.0" y="194.6" width="4.0" height="4.7" fill="#44bbee"/>
<rect x="447.6" y="188.6" width="4.0" height="4.7" fill="#7ccbbe"/>
<rect x="415.8" y="190.0" width="4.0" height="4.7" fill="#8dc878"/>
<rect x="437.8" y="198.3" width="4.0" height="4.7" fill="#44bbee"/>
<rect x="190.9" y="285.8" width="4.0" height="4.7" fill="#7d1518"/>
<rect x="345.2" y="133.0" width="4.0" height="4.7" fill="#bfd957"/>
<rect x="200.2" y="299.8" width="4.0" height="4.7" fill="#ebde2a"/>
<rect x="89.4" y="342.6" width="4.0" height="4.7" fill="#7ccbbe"/>
<rect x="245.8" y="319.2" width="4.0" height="4.7" fill="#8dc878"/>
<rect x="256.9" y="318.3" width="4.0" height="4.7" fill="#bfd957"/>
<rect x="305.1" y="322.4" width="4.0" height="4.7" fill="#7ccbbe"/>
<rect x="292.7" y="331.7" width="4.0" height="4.7" fill="#2b3190"/>
<rect x="285.0" y="336.2" width="4.0" height="4.7" fill="#bfd957"/>
<rect x="284.7" y="344.8" width="4.0" height="4.7" fill="#bfd957"/>
<rect x="294.9" y="348.0" width="4.0" height="4.7" fill="#bfd957"/>
<rect x="223.1" y="370.3" width="4.0" height="4.7" fill="#2b3190"/>
<rect x="248.0" y="376.7" width="4.0" height="4.7" fill="#4e6eb8"/>
<rect x="294.0" y="383.7" width="4.0" height="4.7" fill="#4e6eb8"/>
<rect x="287.3" y="435.1" width="4.0" height="4.7" fill="#44bbee"/>
<rect x="259.5" y="463.5" width="4.0" height="4.7" fill="#7ccbbe"/>
<rect x="461.2" y="42.9" width="4.0" height="4.7" fill="#2b3190"/>
<rect x="516.0" y="86.9" width="4.0" height="4.7" fill="#44bbee"/>
<rect x="408.6" y="118.8" width="4.0" height="4.7" fill="#4a8fd0"/>
<rect x="409.4" y="119.5" width="4.0" height="4.7" fill="#4a8fd0"/>
<rect x="414.7" y="119.1" width="4.0" height="4.7" fill="#4a8fd0"/>
<rect x="414.3" y="121.4" width="4.0" height="4.7" fill="#4a8fd0"/>
<rect x="422.8" y="123.3" width="4.0" height="4.7" fill="#4a8fd0"/>
<rect x="428.0" y="123.2" width="4.0" height="4.7" fill="#4a8fd0"/>
<rect x="416.2" y="128.7" width="4.0" height="4.7" fill="#4a8fd0"/>
<rect x="418.5" y="129.0" width="4.0" height="4.7" fill="#4a8fd0"/>
<rect x="420.5" y="128.7" width="4.0" height="4.7" fill="#4a8fd0"/>
<rect x="418.5" y="131.3" width="4.0" height="4.7" fill="#4a8fd0"/>
<rect x="426.2" y="130.8" width="4.0" height="4.7" fill="#4a8fd0"/>
<rect x="423.9" y="132.1" width="4.0" height="4.7" fill="#4a8fd0"/>
<rect x="422.8" y="133.1" width="4.0" height="4.7" fill="#4a8fd0"/>
<rect x="419.8" y="137.0" width="4.0" height="4.7" fill="#4a8fd0"/>
<rect x="423.6" y="138.2" width="4.0" height="4.7" fill="#4a8fd0"/>
<rect x="413.3" y="138.6" width="4.0" height="4.7" fill="#4a8fd0"/>
<rect x="414.3" y="140.0" width="4.0" height="4.7" fill="#4a8fd0"/>
<rect x="420.1" y="147.7" width="4.0" height="4.7" fill="#4a8fd0"/>
<rect x="446.1" y="127.5" width="4.0" height="4.7" fill="#7ccbbe"/>
<rect x="451.9" y="128.7" width="4.0" height="4.7" fill="#7ccbbe"/>
<rect x="442.2" y="134.8" width="4.0" height="4.7" fill="#7ccbbe"/>
<rect x="443.9" y="144.3" width="4.0" height="4.7" fill="#4e6eb8"/>
<rect x="437.8" y="146.0" width="4.0" height="4.7" fill="#7ccbbe"/>
<rect x="446.7" y="147.4" width="4.0" height="4.7" fill="#44bbee"/>
<rect x="423.3" y="150.1" width="4.0" height="4.7" fill="#bfd957"/>
<rect x="440.9" y="153.0" width="4.0" height="4.7" fill="#7ccbbe"/>
<rect x="444.1" y="154.6" width="4.0" height="4.7" fill="#8dc878"/>
<rect x="431.7" y="157.0" width="4.0" height="4.7" fill="#fbd714"/>
<rect x="447.1" y="157.0" width="4.0" height="4.7" fill="#2b3190"/>
<rect x="443.0" y="157.8" width="4.0" height="4.7" fill="#bfd957"/>
<rect x="427.4" y="158.8" width="4.0" height="4.7" fill="#44bbee"/>
<rect x="426.6" y="161.1" width="4.0" height="4.7" fill="#7ccbbe"/>
<rect x="456.8" y="158.8" width="4.0" height="4.7" fill="#44bbee"/>
<rect x="407.8" y="161.1" width="4.0" height="4.7" fill="#7ccbbe"/>
<rect x="389.5" y="164.6" width="4.0" height="4.7" fill="#44bbee"/>
<rect x="408.9" y="165.0" width="4.0" height="4.7" fill="#44bbee"/>
<rect x="418.1" y="165.4" width="4.0" height="4.7" fill="#44bbee"/>
<rect x="412.9" y="166.5" width="4.0" height="4.7" fill="#8dc878"/>
<rect x="437.7" y="164.2" width="4.0" height="4.7" fill="#7ccbbe"/>
<rect x="440.0" y="163.4" width="4.0" height="4.7" fill="#44bbee"/>
<rect x="442.2" y="162.7" width="4.0" height="4.7" fill="#44bbee"/>
<rect x="444.5" y="160.4" width="4.0" height="4.7" fill="#44bbee"/>
<rect x="445.3" y="165.0" width="4.0" height="4.7" fill="#44bbee"/>
<rect x="441.5" y="167.2" width="4.0" height="4.7" fill="#44bbee"/>
<rect x="443.8" y="168.8" width="4.0" height="4.7" fill="#44bbee"/>
<rect x="446.1" y="167.2" width="4.0" height="4.7" fill="#44bbee"/>
<rect x="450.2" y="164.2" width="4.0" height="4.7" fill="#3a50a4"/>
<rect x="433.1" y="166.8" width="4.0" height="4.7" fill="#44bbee"/>
<rect x="426.2" y="169.8" width="4.0" height="4.7" fill="#7ccbbe"/>
<rect x="403.2" y="170.8" width="4.0" height="4.7" fill="#44bbee"/>
<rect x="409.4" y="172.3" width="4.0" height="4.7" fill="#44bbee"/>
<rect x="412.4" y="171.5" width="4.0" height="4.7" fill="#44bbee"/>
<rect x="402.5" y="175.4" width="4.0" height="4.7" fill="#bfd957"/>
<rect x="406.3" y="172.6" width="4.0" height="4.7" fill="#bfd957"/>
<rect x="380.8" y="172.9" width="4.0" height="4.7" fill="#4a8fd0"/>
<rect x="392.2" y="172.9" width="4.0" height="4.7" fill="#7ccbbe"/>
<rect x="418.1" y="173.4" width="4.0" height="4.7" fill="#8dc878"/>
<rect x="420.1" y="172.1" width="4.0" height="4.7" fill="#bfd957"/>
<rect x="430.8" y="172.9" width="4.0" height="4.7" fill="#7ccbbe"/>
<rect x="423.9" y="176.4" width="4.0" height="4.7" fill="#44bbee"/>
<rect x="448.4" y="170.8" width="4.0" height="4.7" fill="#8dc878"/>
<rect x="443.0" y="172.9" width="4.0" height="4.7" fill="#44bbee"/>
<rect x="439.2" y="174.9" width="4.0" height="4.7" fill="#7ccbbe"/>
<rect x="457.8" y="172.1" width="4.0" height="4.7" fill="#44bbee"/>
<rect x="485.5" y="142.5" width="4.0" height="4.7" fill="#2b3190"/>
<rect x="469.5" y="146.3" width="4.0" height="4.7" fill="#7ccbbe"/>
<rect x="460.8" y="150.0" width="4.0" height="4.7" fill="#7ccbbe"/>
<rect x="471.8" y="161.4" width="4.0" height="4.7" fill="#fbd714"/>
<rect x="472.5" y="163.4" width="4.0" height="4.7" fill="#8dc878"/>
<rect x="501.7" y="161.4" width="4.0" height="4.7" fill="#4a8fd0"/>
<rect x="493.2" y="172.1" width="4.0" height="4.7" fill="#8dc878"/>
<rect x="463.8" y="177.2" width="4.0" height="4.7" fill="#ebde2a"/>
<rect x="394.1" y="180.7" width="4.0" height="4.7" fill="#bfd957"/>
<rect x="399.4" y="180.4" width="4.0" height="4.7" fill="#8dc878"/>
<rect x="406.3" y="179.2" width="4.0" height="4.7" fill="#7ccbbe"/>
<rect x="402.5" y="183.5" width="4.0" height="4.7" fill="#44bbee"/>
<rect x="409.4" y="178.4" width="4.0" height="4.7" fill="#7ccbbe"/>
<rect x="412.4" y="183.8" width="4.0" height="4.7" fill="#bfd957"/>
<rect x="416.2" y="182.2" width="4.0" height="4.7" fill="#8dc878"/>
<rect x="420.1" y="178.4" width="4.0" height="4.7" fill="#7ccbbe"/>
<rect x="425.4" y="177.7" width="4.0" height="4.7" fill="#7ccbbe"/>
<rect x="433.8" y="178.4" width="4.0" height="4.7" fill="#7ccbbe"/>
<rect x="437.7" y="179.2" width="4.0" height="4.7" fill="#7ccbbe"/>
<rect x="441.5" y="180.7" width="4.0" height="4.7" fill="#44bbee"/>
<rect x="444.5" y="179.9" width="4.0" height="4.7" fill="#44bbee"/>
<rect x="450.7" y="179.2" width="4.0" height="4.7" fill="#2b3190"/>
<rect x="453.0" y="181.5" width="4.0" height="4.7" fill="#2b3190"/>
<rect x="455.2" y="179.9" width="4.0" height="4.7" fill="#4e6eb8"/>
<rect x="447.6" y="183.0" width="4.0" height="4.7" fill="#44bbee"/>
<rect x="384.4" y="189.4" width="4.0" height="4.7" fill="#7ccbbe"/>
<rect x="399.4" y="190.7" width="4.0" height="4.7" fill="#44bbee"/>
<rect x="403.2" y="188.4" width="4.0" height="4.7" fill="#8dc878"/>
<rect x="407.1" y="187.6" width="4.0" height="4.7" fill="#bfd957"/>
<rect x="408.6" y="185.3" width="4.0" height="4.7" fill="#44bbee"/>
<rect x="412.4" y="189.9" width="4.0" height="4.7" fill="#7ccbbe"/>
<rect x="417.0" y="191.4" width="4.0" height="4.7" fill="#8dc878"/>
<rect x="426.9" y="186.1" width="4.0" height="4.7" fill="#bfd957"/>
<rect x="423.9" y="186.1" width="4.0" height="4.7" fill="#7ccbbe"/>
<rect x="430.8" y="185.3" width="4.0" height="4.7" fill="#7ccbbe"/>
<rect x="428.5" y="192.2" width="4.0" height="4.7" fill="#bfd957"/>
<rect x="429.2" y="192.9" width="4.0" height="4.7" fill="#fbd714"/>
<rect x="433.1" y="189.9" width="4.0" height="4.7" fill="#8dc878"/>
<rect x="436.9" y="187.6" width="4.0" height="4.7" fill="#7ccbbe"/>
<rect x="439.2" y="186.8" width="4.0" height="4.7" fill="#44bbee"/>
<rect x="441.5" y="186.1" width="4.0" height="4.7" fill="#bfd957"/>
<rect x="443.8" y="191.4" width="4.0" height="4.7" fill="#7ccbbe"/>
<rect x="448.4" y="188.4" width="4.0" height="4.7" fill="#7ccbbe"/>
<rect x="453.0" y="186.8" width="4.0" height="4.7" fill="#4e6eb8"/>
<rect x="450.7" y="192.2" width="4.0" height="4.7" fill="#7ccbbe"/>
<rect x="400.9" y="195.2" width="4.0" height="4.7" fill="#8dc878"/>
<rect x="402.5" y="194.5" width="4.0" height="4.7" fill="#44bbee"/>
<rect x="405.5" y="193.7" width="4.0" height="4.7" fill="#44bbee"/>
<rect x="407.8" y="196.0" width="4.0" height="4.7" fill="#44bbee"/>
<rect x="388.4" y="196.0" width="4.0" height="4.7" fill="#8dc878"/>
<rect x="402.5" y="199.1" width="4.0" height="4.7" fill="#44bbee"/>
<rect x="404.8" y="198.3" width="4.0" height="4.7" fill="#44bbee"/>
<rect x="408.6" y="200.6" width="4.0" height="4.7" fill="#44bbee"/>
<rect x="406.3" y="202.9" width="4.0" height="4.7" fill="#44bbee"/>
<rect x="410.9" y="194.5" width="4.0" height="4.7" fill="#8dc878"/>
<rect x="413.9" y="196.8" width="4.0" height="4.7" fill="#bfd957"/>
<rect x="420.8" y="198.3" width="4.0" height="4.7" fill="#fbd714"/>
<rect x="417.5" y="199.8" width="4.0" height="4.7" fill="#f7921e"/>
<rect x="415.2" y="203.7" width="4.0" height="4.7" fill="#f7921e"/>
<rect x="435.4" y="193.7" width="4.0" height="4.7" fill="#7ccbbe"/>
<rect x="440.7" y="193.7" width="4.0" height="4.7" fill="#8dc878"/>
<rect x="439.2" y="199.8" width="4.0" height="4.7" fill="#fbd714"/>
<rect x="439.2" y="200.6" width="4.0" height="4.7" fill="#bfd957"/>
<rect x="436.9" y="199.1" width="4.0" height="4.7" fill="#7ccbbe"/>
<rect x="443.8" y="202.1" width="4.0" height="4.7" fill="#44bbee"/>
<rect x="446.1" y="200.6" width="4.0" height="4.7" fill="#44bbee"/>
<rect x="449.9" y="200.6" width="4.0" height="4.7" fill="#7ccbbe"/>
<rect x="448.4" y="201.4" width="4.0" height="4.7" fill="#4e6eb8"/>
<rect x="457.5" y="196.8" width="4.0" height="4.7" fill="#fbd714"/>
<rect x="456.8" y="197.5" width="4.0" height="4.7" fill="#44bbee"/>
<rect x="457.5" y="202.9" width="4.0" height="4.7" fill="#4e6eb8"/>
<rect x="379.5" y="202.1" width="4.0" height="4.7" fill="#7ccbbe"/>
<rect x="401.7" y="203.7" width="4.0" height="4.7" fill="#8dc878"/>
<rect x="407.1" y="205.2" width="4.0" height="4.7" fill="#44bbee"/>
<rect x="409.4" y="202.9" width="4.0" height="4.7" fill="#44bbee"/>
<rect x="430.8" y="205.6" width="4.0" height="4.7" fill="#44bbee"/>
<rect x="426.9" y="206.4" width="4.0" height="4.7" fill="#7ccbbe"/>
<rect x="414.7" y="209.0" width="4.0" height="4.7" fill="#44bbee"/>
<rect x="410.1" y="207.5" width="4.0" height="4.7" fill="#8dc878"/>
<rect x="407.8" y="210.5" width="4.0" height="4.7" fill="#bfd957"/>
<rect x="411.7" y="212.1" width="4.0" height="4.7" fill="#bfd957"/>
<rect x="409.4" y="214.4" width="4.0" height="4.7" fill="#8dc878"/>
<rect x="388.4" y="209.8" width="4.0" height="4.7" fill="#8dc878"/>
<rect x="400.6" y="213.3" width="4.0" height="4.7" fill="#4e6eb8"/>
<rect x="393.0" y="213.6" width="4.0" height="4.7" fill="#7ccbbe"/>
<rect x="384.9" y="215.1" width="4.0" height="4.7" fill="#8dc878"/>
<rect x="387.2" y="215.9" width="4.0" height="4.7" fill="#fbd714"/>
<rect x="378.8" y="215.1" width="4.0" height="4.7" fill="#4e6eb8"/>
<rect x="421.3" y="211.3" width="4.0" height="4.7" fill="#bfd957"/>
<rect x="435.4" y="211.3" width="4.0" height="4.7" fill="#7ccbbe"/>
<rect x="440.7" y="212.8" width="4.0" height="4.7" fill="#44bbee"/>
<rect x="437.7" y="215.1" width="4.0" height="4.7" fill="#44bbee"/>
<rect x="446.8" y="209.8" width="4.0" height="4.7" fill="#44bbee"/>
<rect x="445.3" y="210.5" width="4.0" height="4.7" fill="#7ccbbe"/>
<rect x="449.9" y="208.2" width="4.0" height="4.7" fill="#8dc878"/>
<rect x="453.0" y="209.0" width="4.0" height="4.7" fill="#2b3190"/>
<rect x="453.0" y="212.8" width="4.0" height="4.7" fill="#fbd714"/>
<rect x="453.7" y="212.1" width="4.0" height="4.7" fill="#f7921e"/>
<rect x="456.8" y="210.5" width="4.0" height="4.7" fill="#4e6eb8"/>
<rect x="449.9" y="214.4" width="4.0" height="4.7" fill="#44bbee"/>
<rect x="455.2" y="215.1" width="4.0" height="4.7" fill="#7ccbbe"/>
<rect x="443.8" y="216.7" width="4.0" height="4.7" fill="#bfd957"/>
<rect x="448.4" y="215.9" width="4.0" height="4.7" fill="#7ccbbe"/>
<rect x="439.2" y="219.0" width="4.0" height="4.7" fill="#7ccbbe"/>
<rect x="433.1" y="219.0" width="4.0" height="4.7" fill="#8dc878"/>
<rect x="425.1" y="217.7" width="4.0" height="4.7" fill="#7ccbbe"/>
<rect x="420.8" y="219.7" width="4.0" height="4.7" fill="#8dc878"/>
<rect x="448.7" y="220.2" width="4.0" height="4.7" fill="#44bbee"/>
<rect x="412.9" y="223.5" width="4.0" height="4.7" fill="#f7921e"/>
<rect x="423.9" y="224.3" width="4.0" height="4.7" fill="#bfd957"/>
<rect x="423.6" y="229.4" width="4.0" height="4.7" fill="#44bbee"/>
<rect x="396.8" y="223.5" width="4.0" height="4.7" fill="#8dc878"/>
<rect x="397.9" y="225.1" width="4.0" height="4.7" fill="#fbd714"/>
<rect x="404.3" y="226.3" width="4.0" height="4.7" fill="#7ccbbe"/>
<rect x="406.3" y="227.8" width="4.0" height="4.7" fill="#8dc878"/>
<rect x="395.6" y="230.1" width="4.0" height="4.7" fill="#8dc878"/>
<rect x="428.2" y="232.0" width="4.0" height="4.7" fill="#2b3190"/>
<rect x="449.6" y="228.9" width="4.0" height="4.7" fill="#4e6eb8"/>
<rect x="386.4" y="230.7" width="4.0" height="4.7" fill="#2b3190"/>
<rect x="388.4" y="233.5" width="4.0" height="4.7" fill="#44bbee"/>
<rect x="397.1" y="236.2" width="4.0" height="4.7" fill="#f7921e"/>
<rect x="391.8" y="240.8" width="4.0" height="4.7" fill="#b71c24"/>
<rect x="401.3" y="242.7" width="4.0" height="4.7" fill="#f7921e"/>
<rect x="406.8" y="245.0" width="4.0" height="4.7" fill="#7ccbbe"/>
<rect x="389.8" y="246.8" width="4.0" height="4.7" fill="#8dc878"/>
<rect x="409.8" y="248.8" width="4.0" height="4.7" fill="#bfd957"/>
<rect x="423.1" y="246.5" width="4.0" height="4.7" fill="#bfd957"/>
<rect x="440.0" y="238.1" width="4.0" height="4.7" fill="#44bbee"/>
<rect x="443.8" y="239.6" width="4.0" height="4.7" fill="#2b3190"/>
<rect x="378.8" y="240.4" width="4.0" height="4.7" fill="#8dc878"/>
<rect x="435.4" y="249.5" width="4.0" height="4.7" fill="#4e6eb8"/>
<rect x="438.4" y="248.8" width="4.0" height="4.7" fill="#7ccbbe"/>
<rect x="438.9" y="250.8" width="4.0" height="4.7" fill="#7ccbbe"/>
<rect x="463.8" y="179.5" width="4.0" height="4.7" fill="#ebde2a"/>
<rect x="461.8" y="184.5" width="4.0" height="4.7" fill="#7ccbbe"/>
<rect x="459.5" y="186.1" width="4.0" height="4.7" fill="#44bbee"/>
<rect x="460.8" y="189.1" width="4.0" height="4.7" fill="#44bbee"/>
<rect x="467.5" y="186.1" width="4.0" height="4.7" fill="#3a50a4"/>
<rect x="481.3" y="185.6" width="4.0" height="4.7" fill="#44bbee"/>
<rect x="484.3" y="187.1" width="4.0" height="4.7" fill="#3a50a4"/>
<rect x="495.8" y="183.3" width="4.0" height="4.7" fill="#44bbee"/>
<rect x="501.1" y="184.1" width="4.0" height="4.7" fill="#7ccbbe"/>
<rect x="495.2" y="187.1" width="4.0" height="4.7" fill="#bfd957"/>
<rect x="479.4" y="191.4" width="4.0" height="4.7" fill="#bfd957"/>
<rect x="487.4" y="193.7" width="4.0" height="4.7" fill="#4e6eb8"/>
<rect x="466.4" y="195.7" width="4.0" height="4.7" fill="#44bbee"/>
<rect x="467.9" y="196.8" width="4.0" height="4.7" fill="#3a50a4"/>
<rect x="467.9" y="199.1" width="4.0" height="4.7" fill="#3a50a4"/>
<rect x="458.0" y="197.2" width="4.0" height="4.7" fill="#fbd714"/>
<rect x="460.3" y="197.5" width="4.0" height="4.7" fill="#3a50a4"/>
<rect x="478.7" y="199.8" width="4.0" height="4.7" fill="#3a50a4"/>
<rect x="476.7" y="202.9" width="4.0" height="4.7" fill="#44bbee"/>
<rect x="462.3" y="201.8" width="4.0" height="4.7" fill="#3a50a4"/>
<rect x="458.8" y="202.9" width="4.0" height="4.7" fill="#3a50a4"/>
<rect x="503.9" y="203.3" width="4.0" height="4.7" fill="#7ccbbe"/>
<rect x="466.9" y="205.9" width="4.0" height="4.7" fill="#3a50a4"/>
<rect x="464.1" y="209.0" width="4.0" height="4.7" fill="#3a50a4"/>
<rect x="466.0" y="210.5" width="4.0" height="4.7" fill="#3a50a4"/>
<rect x="461.1" y="211.0" width="4.0" height="4.7" fill="#3a50a4"/>
<rect x="458.0" y="210.5" width="4.0" height="4.7" fill="#3a50a4"/>
<rect x="469.9" y="210.5" width="4.0" height="4.7" fill="#44bbee"/>
<rect x="473.3" y="211.0" width="4.0" height="4.7" fill="#44bbee"/>
<rect x="461.1" y="214.4" width="4.0" height="4.7" fill="#7ccbbe"/>
<rect x="489.4" y="211.6" width="4.0" height="4.7" fill="#44bbee"/>
<rect x="489.7" y="215.1" width="4.0" height="4.7" fill="#44bbee"/>
<rect x="458.0" y="219.7" width="4.0" height="4.7" fill="#f7921e"/>
<rect x="471.5" y="221.7" width="4.0" height="4.7" fill="#bfd957"/>
<rect x="489.4" y="227.8" width="4.0" height="4.7" fill="#44bbee"/>
<rect x="498.5" y="230.1" width="4.0" height="4.7" fill="#7ccbbe"/>
<rect x="478.7" y="229.7" width="4.0" height="4.7" fill="#7ccbbe"/>
<rect x="463.8" y="231.2" width="4.0" height="4.7" fill="#44bbee"/>
<rect x="466.9" y="231.5" width="4.0" height="4.7" fill="#4e6eb8"/>
<rect x="469.5" y="232.7" width="4.0" height="4.7" fill="#44bbee"/>
<rect x="462.3" y="236.2" width="4.0" height="4.7" fill="#7ccbbe"/>
<rect x="466.9" y="238.1" width="4.0" height="4.7" fill="#3a50a4"/>
<rect x="467.2" y="240.1" width="4.0" height="4.7" fill="#3a50a4"/>
<rect x="481.3" y="237.3" width="4.0" height="4.7" fill="#44bbee"/>
<rect x="488.6" y="238.1" width="4.0" height="4.7" fill="#44bbee"/>
<rect x="492.0" y="238.1" width="4.0" height="4.7" fill="#44bbee"/>
<rect x="485.8" y="239.9" width="4.0" height="4.7" fill="#7ccbbe"/>
<rect x="480.2" y="241.1" width="4.0" height="4.7" fill="#bfd957"/>
<rect x="460.3" y="255.7" width="4.0" height="4.7" fill="#3a50a4"/>
<rect x="468.7" y="255.7" width="4.0" height="4.7" fill="#44bbee"/>
<rect x="392.5" y="259.5" width="4.0" height="4.7" fill="#4a8fd0"/>
<rect x="423.4" y="259.9" width="4.0" height="4.7" fill="#44bbee"/>
<rect x="441.0" y="258.9" width="4.0" height="4.7" fill="#4e6eb8"/>
<rect x="445.6" y="260.7" width="4.0" height="4.7" fill="#3a50a4"/>
<rect x="378.8" y="263.0" width="4.0" height="4.7" fill="#f7921e"/>
<rect x="381.1" y="268.4" width="4.0" height="4.7" fill="#f7921e"/>
<rect x="394.1" y="271.1" width="4.0" height="4.7" fill="#ee3b24"/>
<rect x="404.0" y="269.4" width="4.0" height="4.7" fill="#44bbee"/>
<rect x="408.1" y="268.4" width="4.0" height="4.7" fill="#ee3b24"/>
<rect x="453.4" y="274.5" width="4.0" height="4.7" fill="#8dc878"/>
<rect x="393.6" y="281.1" width="4.0" height="4.7" fill="#b71c24"/>
<rect x="416.9" y="281.4" width="4.0" height="4.7" fill="#f7921e"/>
<rect x="378.0" y="280.6" width="4.0" height="4.7" fill="#3a50a4"/>
<rect x="394.1" y="292.1" width="4.0" height="4.7" fill="#3a50a4"/>
<rect x="507.7" y="268.8" width="4.0" height="4.7" fill="#3a50a4"/>
<rect x="242.2" y="216.9" width="4.0" height="4.7" fill="#8dc878"/>
<rect x="228.4" y="231.8" width="4.0" height="4.7" fill="#7ccbbe"/>
<rect x="250.0" y="231.1" width="4.0" height="4.7" fill="#4e6eb8"/>
<rect x="208.6" y="239.5" width="4.0" height="4.7" fill="#2b3190"/>
<rect x="241.6" y="243.3" width="4.0" height="4.7" fill="#b71c24"/>
<rect x="243.7" y="242.6" width="4.0" height="4.7" fill="#b71c24"/>
<rect x="251.9" y="242.4" width="4.0" height="4.7" fill="#4e6eb8"/>
<rect x="249.0" y="244.7" width="4.0" height="4.7" fill="#4e6eb8"/>
<rect x="256.5" y="245.8" width="4.0" height="4.7" fill="#7ccbbe"/>
<rect x="257.7" y="238.9" width="4.0" height="4.7" fill="#fbd714"/>
<rect x="243.3" y="247.0" width="4.0" height="4.7" fill="#44bbee"/>
<rect x="237.9" y="249.3" width="4.0" height="4.7" fill="#4e6eb8"/>
<rect x="246.2" y="249.8" width="4.0" height="4.7" fill="#bfd957"/>
<rect x="250.2" y="249.3" width="4.0" height="4.7" fill="#44bbee"/>
<rect x="231.0" y="251.0" width="4.0" height="4.7" fill="#ee3b24"/>
<rect x="241.0" y="251.6" width="4.0" height="4.7" fill="#44bbee"/>
<rect x="208.1" y="254.1" width="4.0" height="4.7" fill="#3a50a4"/>
<rect x="221.9" y="256.2" width="4.0" height="4.7" fill="#4e6eb8"/>
<rect x="234.1" y="254.4" width="4.0" height="4.7" fill="#4e6eb8"/>
<rect x="237.6" y="256.7" width="4.0" height="4.7" fill="#44bbee"/>
<rect x="251.9" y="253.3" width="4.0" height="4.7" fill="#fbd714"/>
<rect x="248.5" y="255.0" width="4.0" height="4.7" fill="#b71c24"/>
<rect x="250.8" y="256.2" width="4.0" height="4.7" fill="#b71c24"/>
<rect x="228.4" y="257.3" width="4.0" height="4.7" fill="#fbd714"/>
<rect x="261.4" y="201.3" width="4.0" height="4.7" fill="#4a8fd0"/>
<rect x="268.1" y="204.3" width="4.0" height="4.7" fill="#4a8fd0"/>
<rect x="280.0" y="204.0" width="4.0" height="4.7" fill="#7ccbbe"/>
<rect x="280.4" y="209.1" width="4.0" height="4.7" fill="#4a8fd0"/>
<rect x="303.3" y="198.2" width="4.0" height="4.7" fill="#4e6eb8"/>
<rect x="306.2" y="199.4" width="4.0" height="4.7" fill="#4e6eb8"/>
<rect x="311.9" y="198.2" width="4.0" height="4.7" fill="#3a50a4"/>
<rect x="315.4" y="199.9" width="4.0" height="4.7" fill="#4e6eb8"/>
<rect x="309.0" y="203.4" width="4.0" height="4.7" fill="#4a8fd0"/>
<rect x="301.6" y="204.5" width="4.0" height="4.7" fill="#4e6eb8"/>
<rect x="298.7" y="205.7" width="4.0" height="4.7" fill="#4a8fd0"/>
<rect x="306.8" y="206.8" width="4.0" height="4.7" fill="#4e6eb8"/>
<rect x="310.8" y="207.4" width="4.0" height="4.7" fill="#4a8fd0"/>
<rect x="313.1" y="205.7" width="4.0" height="4.7" fill="#4e6eb8"/>
<rect x="298.7" y="202.2" width="4.0" height="4.7" fill="#7ccbbe"/>
<rect x="288.7" y="206.6" width="4.0" height="4.7" fill="#fbd714"/>
<rect x="275.8" y="209.1" width="4.0" height="4.7" fill="#3a50a4"/>
<rect x="276.9" y="212.6" width="4.0" height="4.7" fill="#7ccbbe"/>
<rect x="284.4" y="212.0" width="4.0" height="4.7" fill="#3a50a4"/>
<rect x="288.4" y="211.4" width="4.0" height="4.7" fill="#4e6eb8"/>
<rect x="292.4" y="213.1" width="4.0" height="4.7" fill="#4e6eb8"/>
<rect x="298.2" y="212.6" width="4.0" height="4.7" fill="#4e6eb8"/>
<rect x="302.2" y="209.1" width="4.0" height="4.7" fill="#4e6eb8"/>
<rect x="317.1" y="212.0" width="4.0" height="4.7" fill="#44bbee"/>
<rect x="270.0" y="217.4" width="4.0" height="4.7" fill="#4a8fd0"/>
<rect x="277.5" y="216.6" width="4.0" height="4.7" fill="#8dc878"/>
<rect x="277.5" y="220.0" width="4.0" height="4.7" fill="#4e6eb8"/>
<rect x="289.0" y="216.0" width="4.0" height="4.7" fill="#3a50a4"/>
<rect x="291.8" y="216.6" width="4.0" height="4.7" fill="#4e6eb8"/>
<rect x="294.7" y="217.2" width="4.0" height="4.7" fill="#4e6eb8"/>
<rect x="299.3" y="217.2" width="4.0" height="4.7" fill="#bfd957"/>
<rect x="307.3" y="215.4" width="4.0" height="4.7" fill="#8dc878"/>
<rect x="312.5" y="217.2" width="4.0" height="4.7" fill="#7ccbbe"/>
<rect x="314.8" y="219.4" width="4.0" height="4.7" fill="#f7921e"/>
<rect x="283.8" y="222.0" width="4.0" height="4.7" fill="#b71c24"/>
<rect x="291.3" y="220.0" width="4.0" height="4.7" fill="#ee3b24"/>
<rect x="289.5" y="222.3" width="4.0" height="4.7" fill="#4e6eb8"/>
<rect x="293.0" y="223.5" width="4.0" height="4.7" fill="#4e6eb8"/>
<rect x="266.3" y="224.8" width="4.0" height="4.7" fill="#3a50a4"/>
<rect x="275.8" y="225.2" width="4.0" height="4.7" fill="#bfd957"/>
<rect x="273.5" y="226.9" width="4.0" height="4.7" fill="#bfd957"/>
<rect x="270.6" y="228.1" width="4.0" height="4.7" fill="#bfd957"/>
<rect x="283.2" y="225.2" width="4.0" height="4.7" fill="#7ccbbe"/>
<rect x="284.4" y="228.6" width="4.0" height="4.7" fill="#44bbee"/>
<rect x="286.7" y="226.9" width="4.0" height="4.7" fill="#bfd957"/>
<rect x="281.5" y="228.1" width="4.0" height="4.7" fill="#bfd957"/>
<rect x="295.9" y="221.7" width="4.0" height="4.7" fill="#8dc878"/>
<rect x="299.3" y="224.0" width="4.0" height="4.7" fill="#bfd957"/>
<rect x="298.2" y="226.9" width="4.0" height="4.7" fill="#fbd714"/>
<rect x="302.2" y="222.3" width="4.0" height="4.7" fill="#f7921e"/>
<rect x="306.2" y="222.3" width="4.0" height="4.7" fill="#bfd957"/>
<rect x="310.2" y="222.3" width="4.0" height="4.7" fill="#bfd957"/>
<rect x="314.2" y="223.5" width="4.0" height="4.7" fill="#f7921e"/>
<rect x="317.7" y="225.2" width="4.0" height="4.7" fill="#8dc878"/>
<rect x="294.7" y="226.3" width="4.0" height="4.7" fill="#fbd714"/>
<rect x="261.4" y="228.9" width="4.0" height="4.7" fill="#44bbee"/>
<rect x="265.8" y="230.7" width="4.0" height="4.7" fill="#3a50a4"/>
<rect x="263.2" y="233.0" width="4.0" height="4.7" fill="#f7921e"/>
<rect x="291.3" y="230.3" width="4.0" height="4.7" fill="#fbd714"/>
<rect x="293.6" y="230.9" width="4.0" height="4.7" fill="#bfd957"/>
<rect x="289.0" y="232.1" width="4.0" height="4.7" fill="#8dc878"/>
<rect x="286.1" y="232.1" width="4.0" height="4.7" fill="#44bbee"/>
<rect x="296.4" y="234.9" width="4.0" height="4.7" fill="#3a50a4"/>
<rect x="294.7" y="237.8" width="4.0" height="4.7" fill="#4e6eb8"/>
<rect x="303.3" y="232.1" width="4.0" height="4.7" fill="#ee3b24"/>
<rect x="305.0" y="228.6" width="4.0" height="4.7" fill="#fbd714"/>
<rect x="301.6" y="230.3" width="4.0" height="4.7" fill="#f7921e"/>
<rect x="308.5" y="229.8" width="4.0" height="4.7" fill="#bfd957"/>
<rect x="311.9" y="230.9" width="4.0" height="4.7" fill="#f7921e"/>
<rect x="315.4" y="228.6" width="4.0" height="4.7" fill="#bfd957"/>
<rect x="308.5" y="234.4" width="4.0" height="4.7" fill="#fbd714"/>
<rect x="312.5" y="233.2" width="4.0" height="4.7" fill="#7ccbbe"/>
<rect x="317.7" y="230.9" width="4.0" height="4.7" fill="#3a50a4"/>
<rect x="283.2" y="233.8" width="4.0" height="4.7" fill="#bfd957"/>
<rect x="259.1" y="239.5" width="4.0" height="4.7" fill="#fbd714"/>
<rect x="262.6" y="237.2" width="4.0" height="4.7" fill="#8dc878"/>
<rect x="268.3" y="236.7" width="4.0" height="4.7" fill="#f7921e"/>
<rect x="271.8" y="239.5" width="4.0" height="4.7" fill="#bfd957"/>
<rect x="271.2" y="236.7" width="4.0" height="4.7" fill="#fbd714"/>
<rect x="276.9" y="238.7" width="4.0" height="4.7" fill="#b71c24"/>
<rect x="279.2" y="236.1" width="4.0" height="4.7" fill="#44bbee"/>
<rect x="280.9" y="238.9" width="4.0" height="4.7" fill="#7ccbbe"/>
<rect x="288.4" y="236.7" width="4.0" height="4.7" fill="#ee3b24"/>
<rect x="286.7" y="239.5" width="4.0" height="4.7" fill="#44bbee"/>
<rect x="291.3" y="238.9" width="4.0" height="4.7" fill="#f7921e"/>
<rect x="299.3" y="240.1" width="4.0" height="4.7" fill="#fbd714"/>
<rect x="303.9" y="236.7" width="4.0" height="4.7" fill="#fbd714"/>
<rect x="307.3" y="238.4" width="4.0" height="4.7" fill="#44bbee"/>
<rect x="310.2" y="236.7" width="4.0" height="4.7" fill="#f7921e"/>
<rect x="314.2" y="237.2" width="4.0" height="4.7" fill="#b71c24"/>
<rect x="317.7" y="237.8" width="4.0" height="4.7" fill="#4e6eb8"/>
<rect x="311.9" y="238.9" width="4.0" height="4.7" fill="#2b3190"/>
<rect x="274.1" y="241.2" width="4.0" height="4.7" fill="#bfd957"/>
<rect x="266.6" y="243.5" width="4.0" height="4.7" fill="#ee3b24"/>
<rect x="262.0" y="242.4" width="4.0" height="4.7" fill="#8dc878"/>
<rect x="259.7" y="245.8" width="4.0" height="4.7" fill="#bfd957"/>
<rect x="263.2" y="247.0" width="4.0" height="4.7" fill="#f7921e"/>
<rect x="271.2" y="243.5" width="4.0" height="4.7" fill="#bfd957"/>
<rect x="275.2" y="244.7" width="4.0" height="4.7" fill="#bfd957"/>
<rect x="278.6" y="245.8" width="4.0" height="4.7" fill="#8dc878"/>
<rect x="282.1" y="243.5" width="4.0" height="4.7" fill="#bfd957"/>
<rect x="283.8" y="247.0" width="4.0" height="4.7" fill="#bfd957"/>
<rect x="288.4" y="243.5" width="4.0" height="4.7" fill="#ee3b24"/>
<rect x="291.3" y="245.3" width="4.0" height="4.7" fill="#fbd714"/>
<rect x="293.6" y="243.5" width="4.0" height="4.7" fill="#fbd714"/>
<rect x="298.2" y="245.3" width="4.0" height="4.7" fill="#b71c24"/>
<rect x="299.3" y="248.1" width="4.0" height="4.7" fill="#b71c24"/>
<rect x="302.7" y="247.0" width="4.0" height="4.7" fill="#bfd957"/>
<rect x="305.0" y="243.5" width="4.0" height="4.7" fill="#fbd714"/>
<rect x="307.3" y="241.8" width="4.0" height="4.7" fill="#4e6eb8"/>
<rect x="310.8" y="243.5" width="4.0" height="4.7" fill="#bfd957"/>
<rect x="309.6" y="247.0" width="4.0" height="4.7" fill="#f7921e"/>
<rect x="315.4" y="243.5" width="4.0" height="4.7" fill="#4a8fd0"/>
<rect x="267.2" y="247.6" width="4.0" height="4.7" fill="#3a50a4"/>
<rect x="259.1" y="249.3" width="4.0" height="4.7" fill="#44bbee"/>
<rect x="260.3" y="252.7" width="4.0" height="4.7" fill="#f7921e"/>
<rect x="263.7" y="251.6" width="4.0" height="4.7" fill="#7ccbbe"/>
<rect x="262.6" y="255.0" width="4.0" height="4.7" fill="#ee3b24"/>
<rect x="269.5" y="250.4" width="4.0" height="4.7" fill="#ee3b24"/>
<rect x="271.2" y="252.7" width="4.0" height="4.7" fill="#ee3b24"/>
<rect x="270.6" y="255.0" width="4.0" height="4.7" fill="#44bbee"/>
<rect x="266.6" y="255.0" width="4.0" height="4.7" fill="#f7921e"/>
<rect x="275.2" y="249.3" width="4.0" height="4.7" fill="#bfd957"/>
<rect x="277.5" y="251.6" width="4.0" height="4.7" fill="#bfd957"/>
<rect x="280.4" y="249.8" width="4.0" height="4.7" fill="#8dc878"/>
<rect x="278.6" y="253.9" width="4.0" height="4.7" fill="#7ccbbe"/>
<rect x="282.1" y="253.9" width="4.0" height="4.7" fill="#44bbee"/>
<rect x="287.3" y="251.0" width="4.0" height="4.7" fill="#4e6eb8"/>
<rect x="292.2" y="250.6" width="4.0" height="4.7" fill="#b71c24"/>
<rect x="286.7" y="255.0" width="4.0" height="4.7" fill="#ee3b24"/>
<rect x="294.7" y="248.7" width="4.0" height="4.7" fill="#fbd714"/>
<rect x="295.9" y="253.9" width="4.0" height="4.7" fill="#f7921e"/>
<rect x="297.0" y="251.6" width="4.0" height="4.7" fill="#b71c24"/>
<rect x="299.9" y="251.0" width="4.0" height="4.7" fill="#b71c24"/>
<rect x="301.6" y="252.7" width="4.0" height="4.7" fill="#ee3b24"/>
<rect x="303.9" y="251.0" width="4.0" height="4.7" fill="#bfd957"/>
<rect x="307.3" y="251.6" width="4.0" height="4.7" fill="#f7921e"/>
<rect x="310.8" y="252.7" width="4.0" height="4.7" fill="#bfd957"/>
<rect x="309.0" y="248.7" width="4.0" height="4.7" fill="#f7921e"/>
<rect x="317.1" y="252.1" width="4.0" height="4.7" fill="#7ccbbe"/>
<rect x="316.5" y="255.0" width="4.0" height="4.7" fill="#4e6eb8"/>
<rect x="298.2" y="256.2" width="4.0" height="4.7" fill="#b71c24"/>
<rect x="292.4" y="256.2" width="4.0" height="4.7" fill="#ee3b24"/>
<rect x="303.9" y="256.2" width="4.0" height="4.7" fill="#fbd714"/>
<rect x="308.5" y="255.6" width="4.0" height="4.7" fill="#b71c24"/>
<rect x="311.9" y="256.7" width="4.0" height="4.7" fill="#b71c24"/>
<rect x="323.2" y="198.8" width="4.0" height="4.7" fill="#ebde2a"/>
<rect x="327.2" y="199.4" width="4.0" height="4.7" fill="#ebde2a"/>
<rect x="331.8" y="199.9" width="4.0" height="4.7" fill="#fbd714"/>
<rect x="335.8" y="200.5" width="4.0" height="4.7" fill="#ebde2a"/>
<rect x="323.7" y="204.5" width="4.0" height="4.7" fill="#ebde2a"/>
<rect x="330.6" y="203.4" width="4.0" height="4.7" fill="#ebde2a"/>
<rect x="335.2" y="204.5" width="4.0" height="4.7" fill="#fbd714"/>
<rect x="326.6" y="209.1" width="4.0" height="4.7" fill="#ebde2a"/>
<rect x="331.2" y="208.5" width="4.0" height="4.7" fill="#ebde2a"/>
<rect x="335.2" y="210.8" width="4.0" height="4.7" fill="#ebde2a"/>
<rect x="327.8" y="211.4" width="4.0" height="4.7" fill="#ebde2a"/>
<rect x="327.8" y="208.0" width="4.0" height="4.7" fill="#bfd957"/>
<rect x="322.0" y="202.8" width="4.0" height="4.7" fill="#4a8fd0"/>
<rect x="345.5" y="198.2" width="4.0" height="4.7" fill="#3a50a4"/>
<rect x="348.7" y="204.0" width="4.0" height="4.7" fill="#3a50a4"/>
<rect x="352.2" y="205.9" width="4.0" height="4.7" fill="#44bbee"/>
<rect x="348.7" y="209.1" width="4.0" height="4.7" fill="#fbd714"/>
<rect x="348.1" y="212.6" width="4.0" height="4.7" fill="#3a50a4"/>
<rect x="359.3" y="204.5" width="4.0" height="4.7" fill="#fbd714"/>
<rect x="361.0" y="205.1" width="4.0" height="4.7" fill="#7ccbbe"/>
<rect x="367.3" y="199.9" width="4.0" height="4.7" fill="#4a8fd0"/>
<rect x="373.6" y="199.4" width="4.0" height="4.7" fill="#8dc878"/>
<rect x="375.9" y="200.5" width="4.0" height="4.7" fill="#4a8fd0"/>
<rect x="368.8" y="208.2" width="4.0" height="4.7" fill="#44bbee"/>
<rect x="319.1" y="212.6" width="4.0" height="4.7" fill="#3a50a4"/>
<rect x="343.0" y="213.5" width="4.0" height="4.7" fill="#f7921e"/>
<rect x="355.9" y="212.6" width="4.0" height="4.7" fill="#3a50a4"/>
<rect x="357.6" y="216.0" width="4.0" height="4.7" fill="#3a50a4"/>
<rect x="359.9" y="216.0" width="4.0" height="4.7" fill="#3a50a4"/>
<rect x="357.0" y="218.3" width="4.0" height="4.7" fill="#3a50a4"/>
<rect x="367.9" y="216.6" width="4.0" height="4.7" fill="#ee3b24"/>
<rect x="370.2" y="216.0" width="4.0" height="4.7" fill="#ee3b24"/>
<rect x="377.7" y="215.4" width="4.0" height="4.7" fill="#4e6eb8"/>
<rect x="328.9" y="216.9" width="4.0" height="4.7" fill="#3a50a4"/>
<rect x="336.6" y="218.9" width="4.0" height="4.7" fill="#8dc878"/>
<rect x="340.9" y="220.0" width="4.0" height="4.7" fill="#3a50a4"/>
<rect x="350.4" y="219.2" width="4.0" height="4.7" fill="#7ccbbe"/>
<rect x="326.0" y="223.1" width="4.0" height="4.7" fill="#7ccbbe"/>
<rect x="362.7" y="221.2" width="4.0" height="4.7" fill="#8dc878"/>
<rect x="370.8" y="222.3" width="4.0" height="4.7" fill="#8dc878"/>
<rect x="365.0" y="224.6" width="4.0" height="4.7" fill="#f7921e"/>
<rect x="369.9" y="224.6" width="4.0" height="4.7" fill="#fbd714"/>
<rect x="366.8" y="226.1" width="4.0" height="4.7" fill="#4e6eb8"/>
<rect x="376.7" y="225.8" width="4.0" height="4.7" fill="#8dc878"/>
<rect x="346.5" y="225.0" width="4.0" height="4.7" fill="#8dc878"/>
<rect x="357.6" y="225.2" width="4.0" height="4.7" fill="#3a50a4"/>
<rect x="355.3" y="228.4" width="4.0" height="4.7" fill="#3a50a4"/>
<rect x="354.1" y="228.9" width="4.0" height="4.7" fill="#3a50a4"/>
<rect x="362.2" y="228.6" width="4.0" height="4.7" fill="#ee3b24"/>
<rect x="363.3" y="230.9" width="4.0" height="4.7" fill="#7ccbbe"/>
<rect x="320.9" y="228.1" width="4.0" height="4.7" fill="#8dc878"/>
<rect x="325.1" y="229.2" width="4.0" height="4.7" fill="#4e6eb8"/>
<rect x="318.6" y="230.9" width="4.0" height="4.7" fill="#4e6eb8"/>
<rect x="345.0" y="230.9" width="4.0" height="4.7" fill="#8dc878"/>
<rect x="350.7" y="232.6" width="4.0" height="4.7" fill="#3a50a4"/>
<rect x="354.7" y="234.4" width="4.0" height="4.7" fill="#3a50a4"/>
<rect x="357.6" y="233.4" width="4.0" height="4.7" fill="#3a50a4"/>
<rect x="359.9" y="233.8" width="4.0" height="4.7" fill="#b71c24"/>
<rect x="320.9" y="234.4" width="4.0" height="4.7" fill="#bfd957"/>
<rect x="318.6" y="234.9" width="4.0" height="4.7" fill="#f7921e"/>
<rect x="319.1" y="237.8" width="4.0" height="4.7" fill="#b71c24"/>
<rect x="332.9" y="234.6" width="4.0" height="4.7" fill="#8dc878"/>
<rect x="338.4" y="235.3" width="4.0" height="4.7" fill="#b71c24"/>
<rect x="367.3" y="235.7" width="4.0" height="4.7" fill="#f7921e"/>
<rect x="371.9" y="236.1" width="4.0" height="4.7" fill="#bfd957"/>
<rect x="346.1" y="238.4" width="4.0" height="4.7" fill="#f7921e"/>
<rect x="353.0" y="238.7" width="4.0" height="4.7" fill="#fbd714"/>
<rect x="357.0" y="240.7" width="4.0" height="4.7" fill="#3a50a4"/>
<rect x="354.5" y="242.4" width="4.0" height="4.7" fill="#fbd714"/>
<rect x="331.2" y="239.5" width="4.0" height="4.7" fill="#3a50a4"/>
<rect x="335.4" y="241.2" width="4.0" height="4.7" fill="#2b3190"/>
<rect x="337.8" y="242.4" width="4.0" height="4.7" fill="#44bbee"/>
<rect x="327.8" y="242.2" width="4.0" height="4.7" fill="#f7921e"/>
<rect x="367.9" y="243.0" width="4.0" height="4.7" fill="#7ccbbe"/>
<rect x="378.0" y="240.7" width="4.0" height="4.7" fill="#8dc878"/>
<rect x="320.5" y="244.5" width="4.0" height="4.7" fill="#ee3b24"/>
<rect x="324.3" y="247.6" width="4.0" height="4.7" fill="#bfd957"/>
<rect x="327.8" y="247.2" width="4.0" height="4.7" fill="#bfd957"/>
<rect x="347.3" y="244.7" width="4.0" height="4.7" fill="#4e6eb8"/>
<rect x="350.4" y="247.0" width="4.0" height="4.7" fill="#fbd714"/>
<rect x="339.8" y="246.4" width="4.0" height="4.7" fill="#fbd714"/>
<rect x="337.5" y="248.7" width="4.0" height="4.7" fill="#fbd714"/>
<rect x="360.7" y="248.1" width="4.0" height="4.7" fill="#3a50a4"/>
<rect x="359.3" y="248.1" width="4.0" height="4.7" fill="#f7921e"/>
<rect x="320.1" y="250.2" width="4.0" height="4.7" fill="#ee3b24"/>
<rect x="318.6" y="253.9" width="4.0" height="4.7" fill="#b71c24"/>
<rect x="345.3" y="250.6" width="4.0" height="4.7" fill="#f7921e"/>
<rect x="348.1" y="251.3" width="4.0" height="4.7" fill="#4e6eb8"/>
<rect x="348.4" y="254.4" width="4.0" height="4.7" fill="#44bbee"/>
<rect x="328.9" y="252.5" width="4.0" height="4.7" fill="#7ccbbe"/>
<rect x="336.9" y="253.9" width="4.0" height="4.7" fill="#44bbee"/>
<rect x="340.4" y="253.3" width="4.0" height="4.7" fill="#4e6eb8"/>
<rect x="342.1" y="252.7" width="4.0" height="4.7" fill="#8dc878"/>
<rect x="376.5" y="252.7" width="4.0" height="4.7" fill="#4e6eb8"/>
<rect x="351.8" y="256.2" width="4.0" height="4.7" fill="#ee3b24"/>
<rect x="330.6" y="256.7" width="4.0" height="4.7" fill="#bfd957"/>
<rect x="319.7" y="256.7" width="4.0" height="4.7" fill="#3a50a4"/>
<rect x="359.9" y="256.7" width="4.0" height="4.7" fill="#7ccbbe"/>
<rect x="366.2" y="257.3" width="4.0" height="4.7" fill="#f7921e"/>
<rect x="282.3" y="138.3" width="4.0" height="4.7" fill="#8dc878"/>
<rect x="336.1" y="155.1" width="4.0" height="4.7" fill="#3a50a4"/>
<rect x="321.7" y="171.3" width="4.0" height="4.7" fill="#4a8fd0"/>
<rect x="307.6" y="179.1" width="4.0" height="4.7" fill="#7ccbbe"/>
<rect x="312.3" y="182.1" width="4.0" height="4.7" fill="#fbd714"/>
<rect x="290.8" y="184.3" width="4.0" height="4.7" fill="#44bbee"/>
<rect x="299.1" y="188.7" width="4.0" height="4.7" fill="#7ccbbe"/>
<rect x="318.4" y="183.1" width="4.0" height="4.7" fill="#3a50a4"/>
<rect x="326.5" y="183.1" width="4.0" height="4.7" fill="#3a50a4"/>
<rect x="324.7" y="186.9" width="4.0" height="4.7" fill="#3a50a4"/>
<rect x="321.7" y="187.5" width="4.0" height="4.7" fill="#4e6eb8"/>
<rect x="326.5" y="189.9" width="4.0" height="4.7" fill="#3a50a4"/>
<rect x="321.1" y="193.5" width="4.0" height="4.7" fill="#3a50a4"/>
<rect x="334.0" y="191.5" width="4.0" height="4.7" fill="#3a50a4"/>
<rect x="288.0" y="194.7" width="4.0" height="4.7" fill="#8dc878"/>
<rect x="306.0" y="193.9" width="4.0" height="4.7" fill="#4e6eb8"/>
<rect x="342.0" y="166.5" width="4.0" height="4.7" fill="#3a50a4"/>
<rect x="345.9" y="190.7" width="4.0" height="4.7" fill="#7ccbbe"/>
<rect x="363.6" y="194.7" width="4.0" height="4.7" fill="#44bbee"/>
<rect x="209.2" y="264.0" width="4.0" height="4.7" fill="#8dc878"/>
<rect x="212.9" y="263.2" width="4.0" height="4.7" fill="#ee3b24"/>
<rect x="215.2" y="266.8" width="4.0" height="4.7" fill="#8dc878"/>
<rect x="208.1" y="268.0" width="4.0" height="4.7" fill="#3a50a4"/>
<rect x="218.4" y="270.3" width="4.0" height="4.7" fill="#4e6eb8"/>
<rect x="218.6" y="274.9" width="4.0" height="4.7" fill="#7ccbbe"/>
<rect x="221.5" y="273.7" width="4.0" height="4.7" fill="#44bbee"/>
<rect x="204.9" y="278.3" width="4.0" height="4.7" fill="#4e6eb8"/>
<rect x="225.5" y="266.3" width="4.0" height="4.7" fill="#f7921e"/>
<rect x="227.8" y="268.0" width="4.0" height="4.7" fill="#f7921e"/>
<rect x="229.0" y="268.5" width="4.0" height="4.7" fill="#f7921e"/>
<rect x="226.1" y="267.4" width="4.0" height="4.7" fill="#fbd714"/>
<rect x="232.4" y="262.8" width="4.0" height="4.7" fill="#fbd714"/>
<rect x="236.4" y="261.7" width="4.0" height="4.7" fill="#8dc878"/>
<rect x="237.0" y="258.2" width="4.0" height="4.7" fill="#44bbee"/>
<rect x="240.4" y="259.9" width="4.0" height="4.7" fill="#44bbee"/>
<rect x="243.9" y="258.8" width="4.0" height="4.7" fill="#7ccbbe"/>
<rect x="248.5" y="258.2" width="4.0" height="4.7" fill="#b71c24"/>
<rect x="247.3" y="262.2" width="4.0" height="4.7" fill="#fbd714"/>
<rect x="251.9" y="260.5" width="4.0" height="4.7" fill="#fbd714"/>
<rect x="255.4" y="259.4" width="4.0" height="4.7" fill="#f7921e"/>
<rect x="237.0" y="265.7" width="4.0" height="4.7" fill="#ee3b24"/>
<rect x="236.4" y="269.1" width="4.0" height="4.7" fill="#fbd714"/>
<rect x="241.6" y="268.5" width="4.0" height="4.7" fill="#f7921e"/>
<rect x="243.9" y="266.3" width="4.0" height="4.7" fill="#7ccbbe"/>
<rect x="248.5" y="265.7" width="4.0" height="4.7" fill="#fbd714"/>
<rect x="251.9" y="267.4" width="4.0" height="4.7" fill="#f7921e"/>
<rect x="256.5" y="267.4" width="4.0" height="4.7" fill="#7ccbbe"/>
<rect x="229.5" y="272.6" width="4.0" height="4.7" fill="#44bbee"/>
<rect x="235.9" y="274.3" width="4.0" height="4.7" fill="#3a50a4"/>
<rect x="238.7" y="273.7" width="4.0" height="4.7" fill="#ee3b24"/>
<rect x="243.3" y="272.0" width="4.0" height="4.7" fill="#7ccbbe"/>
<rect x="247.3" y="271.4" width="4.0" height="4.7" fill="#f7921e"/>
<rect x="250.8" y="272.6" width="4.0" height="4.7" fill="#f7921e"/>
<rect x="253.1" y="269.1" width="4.0" height="4.7" fill="#44bbee"/>
<rect x="255.4" y="273.7" width="4.0" height="4.7" fill="#f7921e"/>
<rect x="232.4" y="276.6" width="4.0" height="4.7" fill="#bfd957"/>
<rect x="226.1" y="278.3" width="4.0" height="4.7" fill="#7ccbbe"/>
<rect x="229.0" y="278.9" width="4.0" height="4.7" fill="#bfd957"/>
<rect x="238.7" y="278.3" width="4.0" height="4.7" fill="#fbd714"/>
<rect x="238.2" y="280.6" width="4.0" height="4.7" fill="#bfd957"/>
<rect x="246.2" y="279.4" width="4.0" height="4.7" fill="#44bbee"/>
<rect x="250.2" y="278.9" width="4.0" height="4.7" fill="#fbd714"/>
<rect x="254.2" y="277.7" width="4.0" height="4.7" fill="#f7921e"/>
<rect x="256.5" y="280.6" width="4.0" height="4.7" fill="#ee3b24"/>
<rect x="222.7" y="281.2" width="4.0" height="4.7" fill="#bfd957"/>
<rect x="218.6" y="284.6" width="4.0" height="4.7" fill="#44bbee"/>
<rect x="229.0" y="283.5" width="4.0" height="4.7" fill="#bfd957"/>
<rect x="234.1" y="284.0" width="4.0" height="4.7" fill="#f7921e"/>
<rect x="236.4" y="285.8" width="4.0" height="4.7" fill="#bfd957"/>
<rect x="243.3" y="283.5" width="4.0" height="4.7" fill="#44bbee"/>
<rect x="247.9" y="285.2" width="4.0" height="4.7" fill="#b71c24"/>
<rect x="250.8" y="283.5" width="4.0" height="4.7" fill="#b71c24"/>
<rect x="254.2" y="286.3" width="4.0" height="4.7" fill="#ee3b24"/>
<rect x="216.9" y="289.2" width="4.0" height="4.7" fill="#4e6eb8"/>
<rect x="225.0" y="288.1" width="4.0" height="4.7" fill="#44bbee"/>
<rect x="228.4" y="288.4" width="4.0" height="4.7" fill="#3a50a4"/>
<rect x="222.1" y="288.1" width="4.0" height="4.7" fill="#bfd957"/>
<rect x="242.2" y="289.2" width="4.0" height="4.7" fill="#ee3b24"/>
<rect x="247.3" y="288.1" width="4.0" height="4.7" fill="#ee3b24"/>
<rect x="251.9" y="288.6" width="4.0" height="4.7" fill="#f7921e"/>
<rect x="255.4" y="290.9" width="4.0" height="4.7" fill="#b71c24"/>
<rect x="215.8" y="293.8" width="4.0" height="4.7" fill="#44bbee"/>
<rect x="220.9" y="292.6" width="4.0" height="4.7" fill="#4e6eb8"/>
<rect x="223.8" y="293.2" width="4.0" height="4.7" fill="#44bbee"/>
<rect x="231.3" y="293.0" width="4.0" height="4.7" fill="#f7921e"/>
<rect x="234.1" y="291.5" width="4.0" height="4.7" fill="#4e6eb8"/>
<rect x="242.7" y="294.4" width="4.0" height="4.7" fill="#8dc878"/>
<rect x="247.3" y="291.5" width="4.0" height="4.7" fill="#bfd957"/>
<rect x="250.8" y="292.1" width="4.0" height="4.7" fill="#8dc878"/>
<rect x="222.7" y="298.4" width="4.0" height="4.7" fill="#ee3b24"/>
<rect x="225.5" y="300.1" width="4.0" height="4.7" fill="#44bbee"/>
<rect x="229.0" y="298.9" width="4.0" height="4.7" fill="#ee3b24"/>
<rect x="233.0" y="297.8" width="4.0" height="4.7" fill="#44bbee"/>
<rect x="230.7" y="300.1" width="4.0" height="4.7" fill="#4e6eb8"/>
<rect x="234.7" y="300.1" width="4.0" height="4.7" fill="#44bbee"/>
<rect x="242.2" y="300.1" width="4.0" height="4.7" fill="#f7921e"/>
<rect x="243.9" y="301.8" width="4.0" height="4.7" fill="#ee3b24"/>
<rect x="251.9" y="298.4" width="4.0" height="4.7" fill="#8dc878"/>
<rect x="255.9" y="298.9" width="4.0" height="4.7" fill="#ee3b24"/>
<rect x="199.7" y="299.9" width="4.0" height="4.7" fill="#bfd957"/>
<rect x="231.8" y="305.6" width="4.0" height="4.7" fill="#bfd957"/>
<rect x="241.6" y="309.5" width="4.0" height="4.7" fill="#3a50a4"/>
<rect x="250.8" y="304.1" width="4.0" height="4.7" fill="#8dc878"/>
<rect x="247.9" y="308.1" width="4.0" height="4.7" fill="#f7921e"/>
<rect x="253.1" y="303.5" width="4.0" height="4.7" fill="#8dc878"/>
<rect x="256.5" y="303.5" width="4.0" height="4.7" fill="#8dc878"/>
<rect x="257.1" y="313.9" width="4.0" height="4.7" fill="#8dc878"/>
<rect x="259.1" y="259.4" width="4.0" height="4.7" fill="#fbd714"/>
<rect x="262.6" y="258.8" width="4.0" height="4.7" fill="#f7921e"/>
<rect x="266.0" y="259.9" width="4.0" height="4.7" fill="#ee3b24"/>
<rect x="269.5" y="258.8" width="4.0" height="4.7" fill="#7ccbbe"/>
<rect x="272.9" y="259.9" width="4.0" height="4.7" fill="#f7921e"/>
<rect x="276.4" y="259.4" width="4.0" height="4.7" fill="#44bbee"/>
<rect x="279.8" y="258.2" width="4.0" height="4.7" fill="#f7921e"/>
<rect x="284.4" y="259.9" width="4.0" height="4.7" fill="#bfd957"/>
<rect x="288.4" y="259.4" width="4.0" height="4.7" fill="#8dc878"/>
<rect x="292.4" y="258.8" width="4.0" height="4.7" fill="#bfd957"/>
<rect x="295.3" y="258.2" width="4.0" height="4.7" fill="#b71c24"/>
<rect x="299.3" y="259.4" width="4.0" height="4.7" fill="#bfd957"/>
<rect x="302.7" y="258.8" width="4.0" height="4.7" fill="#8dc878"/>
<rect x="307.3" y="258.2" width="4.0" height="4.7" fill="#f7921e"/>
<rect x="305.0" y="261.7" width="4.0" height="4.7" fill="#b71c24"/>
<rect x="308.5" y="261.7" width="4.0" height="4.7" fill="#fbd714"/>
<rect x="311.9" y="258.8" width="4.0" height="4.7" fill="#4e6eb8"/>
<rect x="313.6" y="262.8" width="4.0" height="4.7" fill="#b71c24"/>
<rect x="316.5" y="259.9" width="4.0" height="4.7" fill="#fbd714"/>
<rect x="261.4" y="262.8" width="4.0" height="4.7" fill="#fbd714"/>
<rect x="264.3" y="263.4" width="4.0" height="4.7" fill="#7ccbbe"/>
<rect x="269.5" y="263.4" width="4.0" height="4.7" fill="#44bbee"/>
<rect x="267.8" y="261.1" width="4.0" height="4.7" fill="#ee3b24"/>
<rect x="282.1" y="262.2" width="4.0" height="4.7" fill="#ee3b24"/>
<rect x="287.8" y="263.4" width="4.0" height="4.7" fill="#7ccbbe"/>
<rect x="292.4" y="262.8" width="4.0" height="4.7" fill="#f7921e"/>
<rect x="295.9" y="262.8" width="4.0" height="4.7" fill="#ee3b24"/>
<rect x="299.3" y="265.7" width="4.0" height="4.7" fill="#3a50a4"/>
<rect x="260.3" y="266.8" width="4.0" height="4.7" fill="#7ccbbe"/>
<rect x="263.2" y="268.5" width="4.0" height="4.7" fill="#f7921e"/>
<rect x="269.5" y="268.0" width="4.0" height="4.7" fill="#f7921e"/>
<rect x="273.5" y="267.4" width="4.0" height="4.7" fill="#44bbee"/>
<rect x="279.8" y="267.4" width="4.0" height="4.7" fill="#f7921e"/>
<rect x="282.7" y="268.0" width="4.0" height="4.7" fill="#ee3b24"/>
<rect x="286.7" y="267.4" width="4.0" height="4.7" fill="#ee3b24"/>
<rect x="287.3" y="266.3" width="4.0" height="4.7" fill="#44bbee"/>
<rect x="290.7" y="268.5" width="4.0" height="4.7" fill="#ee3b24"/>
<rect x="294.7" y="266.8" width="4.0" height="4.7" fill="#f7921e"/>
<rect x="297.6" y="270.3" width="4.0" height="4.7" fill="#8dc878"/>
<rect x="302.2" y="267.4" width="4.0" height="4.7" fill="#ee3b24"/>
<rect x="306.2" y="268.0" width="4.0" height="4.7" fill="#ee3b24"/>
<rect x="308.5" y="267.4" width="4.0" height="4.7" fill="#4e6eb8"/>
<rect x="313.1" y="268.0" width="4.0" height="4.7" fill="#bfd957"/>
<rect x="313.1" y="264.0" width="4.0" height="4.7" fill="#b71c24"/>
<rect x="258.6" y="273.7" width="4.0" height="4.7" fill="#bfd957"/>
<rect x="262.6" y="272.0" width="4.0" height="4.7" fill="#ee3b24"/>
<rect x="266.0" y="272.6" width="4.0" height="4.7" fill="#b71c24"/>
<rect x="270.0" y="272.6" width="4.0" height="4.7" fill="#f7921e"/>
<rect x="274.1" y="272.0" width="4.0" height="4.7" fill="#ee3b24"/>
<rect x="276.9" y="271.4" width="4.0" height="4.7" fill="#b71c24"/>
<rect x="279.8" y="272.6" width="4.0" height="4.7" fill="#ee3b24"/>
<rect x="283.2" y="272.0" width="4.0" height="4.7" fill="#b71c24"/>
<rect x="286.1" y="270.3" width="4.0" height="4.7" fill="#ee3b24"/>
<rect x="287.3" y="274.9" width="4.0" height="4.7" fill="#f7921e"/>
<rect x="290.7" y="272.6" width="4.0" height="4.7" fill="#ee3b24"/>
<rect x="293.6" y="271.4" width="4.0" height="4.7" fill="#ee3b24"/>
<rect x="297.0" y="274.9" width="4.0" height="4.7" fill="#f7921e"/>
<rect x="301.6" y="272.6" width="4.0" height="4.7" fill="#ee3b24"/>
<rect x="305.0" y="272.0" width="4.0" height="4.7" fill="#ee3b24"/>
<rect x="307.9" y="273.7" width="4.0" height="4.7" fill="#ee3b24"/>
<rect x="310.8" y="274.3" width="4.0" height="4.7" fill="#bfd957"/>
<rect x="258.6" y="277.7" width="4.0" height="4.7" fill="#44bbee"/>
<rect x="266.0" y="276.6" width="4.0" height="4.7" fill="#ee3b24"/>
<rect x="270.6" y="278.3" width="4.0" height="4.7" fill="#fbd714"/>
<rect x="274.1" y="278.9" width="4.0" height="4.7" fill="#bfd957"/>
<rect x="277.5" y="276.0" width="4.0" height="4.7" fill="#ee3b24"/>
<rect x="280.9" y="276.0" width="4.0" height="4.7" fill="#ee3b24"/>
<rect x="282.7" y="278.9" width="4.0" height="4.7" fill="#bfd957"/>
<rect x="286.7" y="276.0" width="4.0" height="4.7" fill="#fbd714"/>
<rect x="291.3" y="276.6" width="4.0" height="4.7" fill="#f7921e"/>
<rect x="292.4" y="279.4" width="4.0" height="4.7" fill="#3a50a4"/>
<rect x="301.0" y="276.6" width="4.0" height="4.7" fill="#f7921e"/>
<rect x="303.3" y="277.7" width="4.0" height="4.7" fill="#ee3b24"/>
<rect x="260.9" y="282.3" width="4.0" height="4.7" fill="#f7921e"/>
<rect x="264.9" y="281.7" width="4.0" height="4.7" fill="#bfd957"/>
<rect x="266.6" y="283.5" width="4.0" height="4.7" fill="#7ccbbe"/>
<rect x="269.5" y="284.6" width="4.0" height="4.7" fill="#fbd714"/>
<rect x="272.9" y="282.3" width="4.0" height="4.7" fill="#bfd957"/>
<rect x="276.4" y="282.3" width="4.0" height="4.7" fill="#bfd957"/>
<rect x="275.2" y="284.6" width="4.0" height="4.7" fill="#ee3b24"/>
<rect x="279.2" y="285.2" width="4.0" height="4.7" fill="#bfd957"/>
<rect x="280.9" y="284.6" width="4.0" height="4.7" fill="#fbd714"/>
<rect x="284.4" y="286.3" width="4.0" height="4.7" fill="#b71c24"/>
<rect x="283.8" y="282.3" width="4.0" height="4.7" fill="#3a50a4"/>
<rect x="288.4" y="283.5" width="4.0" height="4.7" fill="#8dc878"/>
<rect x="290.1" y="286.3" width="4.0" height="4.7" fill="#b71c24"/>
<rect x="295.3" y="281.7" width="4.0" height="4.7" fill="#ee3b24"/>
<rect x="299.9" y="282.9" width="4.0" height="4.7" fill="#ee3b24"/>
<rect x="306.2" y="281.7" width="4.0" height="4.7" fill="#8dc878"/>
<rect x="312.8" y="282.3" width="4.0" height="4.7" fill="#b71c24"/>
<rect x="313.6" y="284.0" width="4.0" height="4.7" fill="#f7921e"/>
<rect x="260.9" y="288.1" width="4.0" height="4.7" fill="#b71c24"/>
<rect x="264.9" y="286.3" width="4.0" height="4.7" fill="#44bbee"/>
<rect x="269.5" y="288.1" width="4.0" height="4.7" fill="#ee3b24"/>
<rect x="260.9" y="290.9" width="4.0" height="4.7" fill="#f7921e"/>
<rect x="272.3" y="291.5" width="4.0" height="4.7" fill="#f7921e"/>
<rect x="274.6" y="290.9" width="4.0" height="4.7" fill="#ee3b24"/>
<rect x="278.1" y="289.8" width="4.0" height="4.7" fill="#bfd957"/>
<rect x="277.5" y="292.1" width="4.0" height="4.7" fill="#bfd957"/>
<rect x="281.5" y="290.3" width="4.0" height="4.7" fill="#ee3b24"/>
<rect x="286.5" y="291.5" width="4.0" height="4.7" fill="#44bbee"/>
<rect x="290.7" y="290.9" width="4.0" height="4.7" fill="#7d1518"/>
<rect x="298.7" y="287.7" width="4.0" height="4.7" fill="#3a50a4"/>
<rect x="299.9" y="291.8" width="4.0" height="4.7" fill="#ee3b24"/>
<rect x="262.6" y="293.8" width="4.0" height="4.7" fill="#b71c24"/>
<rect x="266.0" y="294.4" width="4.0" height="4.7" fill="#f7921e"/>
<rect x="269.5" y="294.9" width="4.0" height="4.7" fill="#bfd957"/>
<rect x="263.7" y="297.8" width="4.0" height="4.7" fill="#ee3b24"/>
<rect x="263.2" y="297.2" width="4.0" height="4.7" fill="#f7921e"/>
<rect x="278.1" y="294.4" width="4.0" height="4.7" fill="#bfd957"/>
<rect x="287.3" y="294.9" width="4.0" height="4.7" fill="#fbd714"/>
<rect x="288.4" y="297.6" width="4.0" height="4.7" fill="#7d1518"/>
<rect x="293.0" y="296.7" width="4.0" height="4.7" fill="#ee3b24"/>
<rect x="310.2" y="294.6" width="4.0" height="4.7" fill="#ee3b24"/>
<rect x="273.1" y="300.3" width="4.0" height="4.7" fill="#4a8fd0"/>
<rect x="279.8" y="300.1" width="4.0" height="4.7" fill="#ee3b24"/>
<rect x="312.8" y="298.9" width="4.0" height="4.7" fill="#ee3b24"/>
<rect x="301.8" y="301.8" width="4.0" height="4.7" fill="#7ccbbe"/>
<rect x="293.0" y="302.6" width="4.0" height="4.7" fill="#f7921e"/>
<rect x="282.3" y="303.8" width="4.0" height="4.7" fill="#3a50a4"/>
<rect x="285.3" y="304.9" width="4.0" height="4.7" fill="#ee3b24"/>
<rect x="282.1" y="307.6" width="4.0" height="4.7" fill="#7ccbbe"/>
<rect x="297.6" y="311.3" width="4.0" height="4.7" fill="#44bbee"/>
<rect x="314.0" y="308.7" width="4.0" height="4.7" fill="#44bbee"/>
<rect x="338.1" y="258.2" width="4.0" height="4.7" fill="#7ccbbe"/>
<rect x="318.0" y="261.1" width="4.0" height="4.7" fill="#bfd957"/>
<rect x="318.6" y="265.7" width="4.0" height="4.7" fill="#f7921e"/>
<rect x="325.8" y="263.0" width="4.0" height="4.7" fill="#b71c24"/>
<rect x="330.8" y="261.3" width="4.0" height="4.7" fill="#7ccbbe"/>
<rect x="329.5" y="267.4" width="4.0" height="4.7" fill="#4e6eb8"/>
<rect x="328.1" y="265.9" width="4.0" height="4.7" fill="#f7921e"/>
<rect x="345.3" y="265.5" width="4.0" height="4.7" fill="#bfd957"/>
<rect x="360.2" y="261.3" width="4.0" height="4.7" fill="#f7921e"/>
<rect x="377.7" y="262.8" width="4.0" height="4.7" fill="#f7921e"/>
<rect x="321.2" y="273.5" width="4.0" height="4.7" fill="#b71c24"/>
<rect x="328.6" y="272.0" width="4.0" height="4.7" fill="#f7921e"/>
<rect x="331.5" y="272.3" width="4.0" height="4.7" fill="#7ccbbe"/>
<rect x="338.9" y="270.8" width="4.0" height="4.7" fill="#f7921e"/>
<rect x="341.3" y="270.3" width="4.0" height="4.7" fill="#8dc878"/>
<rect x="358.7" y="273.4" width="4.0" height="4.7" fill="#f7921e"/>
<rect x="366.8" y="272.2" width="4.0" height="4.7" fill="#3a50a4"/>
<rect x="369.6" y="272.9" width="4.0" height="4.7" fill="#4a8fd0"/>
<rect x="318.0" y="280.0" width="4.0" height="4.7" fill="#bfd957"/>
<rect x="321.4" y="280.0" width="4.0" height="4.7" fill="#b71c24"/>
<rect x="347.8" y="279.4" width="4.0" height="4.7" fill="#3a50a4"/>
<rect x="354.7" y="282.7" width="4.0" height="4.7" fill="#4a8fd0"/>
<rect x="331.8" y="285.5" width="4.0" height="4.7" fill="#bfd957"/>
<rect x="326.0" y="294.1" width="4.0" height="4.7" fill="#44bbee"/>
</g>
<line x1="177.3" x2="177.3" y1="487.0" y2="491.0" stroke="#333" stroke-width="1.4"/>
<text x="177.3" y="504.5" text-anchor="middle" class="tk">0.4</text>
<line x1="315.0" x2="315.0" y1="487.0" y2="491.0" stroke="#333" stroke-width="1.4"/>
<text x="315.0" y="504.5" text-anchor="middle" class="tk">0.6</text>
<line x1="452.6" x2="452.6" y1="487.0" y2="491.0" stroke="#333" stroke-width="1.4"/>
<text x="452.6" y="504.5" text-anchor="middle" class="tk">0.8</text>
<line x1="66.7" x2="71.0" y1="56.2" y2="56.2" stroke="#333" stroke-width="1.4"/>
<text x="63.3" y="61.3" text-anchor="end" class="tk">1.0</text>
<line x1="66.7" x2="71.0" y1="167.7" y2="167.7" stroke="#333" stroke-width="1.4"/>
<text x="63.3" y="172.8" text-anchor="end" class="tk">0.5</text>
<line x1="66.7" x2="71.0" y1="279.2" y2="279.2" stroke="#333" stroke-width="1.4"/>
<text x="63.3" y="284.3" text-anchor="end" class="tk">0.0</text>
<line x1="66.7" x2="71.0" y1="390.7" y2="390.7" stroke="#333" stroke-width="1.4"/>
<text x="63.3" y="395.8" text-anchor="end" class="tk">−0.5</text>
<text y="14.3" style="font-size:19.5px;stroke:#000;stroke-width:0.25px"><tspan x="264.2" font-style="italic">R </tspan><tspan x="284.7" dy="-1.2" font-size="16.2">= </tspan><tspan x="298.9" dy="1.2">0.706</tspan></text>
<text x="305.8" y="523" text-anchor="middle" class="ax">SGD</text>
<text transform="translate(12.8,257.5) rotate(-90)" text-anchor="middle" class="ax">difference in average amino acid cost (~P)</text>
<text transform="translate(29.8,257) rotate(-90)" text-anchor="middle" class="ax">between leading and lagging strands</text>
<text x="559.6" y="194.4" class="ax" style="font-size:16.3px">genomic GC%</text>
<rect x="559.6" y="199.50" width="26.8" height="12.17" fill="#b71c24"/>
<rect x="559.6" y="211.37" width="26.8" height="12.17" fill="#ee3b24"/>
<rect x="559.6" y="223.25" width="26.8" height="12.17" fill="#f7921e"/>
<rect x="559.6" y="235.12" width="26.8" height="12.17" fill="#fbd714"/>
<rect x="559.6" y="246.99" width="26.8" height="12.17" fill="#bfd957"/>
<rect x="559.6" y="258.86" width="26.8" height="12.17" fill="#8dc878"/>
<rect x="559.6" y="270.74" width="26.8" height="12.17" fill="#7ccbbe"/>
<rect x="559.6" y="282.61" width="26.8" height="12.17" fill="#44bbee"/>
<rect x="559.6" y="294.48" width="26.8" height="12.17" fill="#4e6eb8"/>
<rect x="559.6" y="306.35" width="26.8" height="12.17" fill="#3a50a4"/>
<rect x="559.6" y="318.23" width="26.8" height="11.87" fill="#2b3190"/>
<line x1="559.6" x2="565" y1="203.0" y2="203.0" stroke="#fff" stroke-opacity="0.7" stroke-width="0.8"/>
<line x1="581" x2="586.4" y1="203.0" y2="203.0" stroke="#fff" stroke-opacity="0.7" stroke-width="0.8"/>
<text x="592.4" y="208.0" class="lg">70</text>
<line x1="559.6" x2="565" y1="227.6" y2="227.6" stroke="#fff" stroke-opacity="0.7" stroke-width="0.8"/>
<line x1="581" x2="586.4" y1="227.6" y2="227.6" stroke="#fff" stroke-opacity="0.7" stroke-width="0.8"/>
<text x="592.4" y="232.6" class="lg">60</text>
<line x1="559.6" x2="565" y1="252.4" y2="252.4" stroke="#fff" stroke-opacity="0.7" stroke-width="0.8"/>
<line x1="581" x2="586.4" y1="252.4" y2="252.4" stroke="#fff" stroke-opacity="0.7" stroke-width="0.8"/>
<text x="592.4" y="257.4" class="lg">50</text>
<line x1="559.6" x2="565" y1="277.2" y2="277.2" stroke="#fff" stroke-opacity="0.7" stroke-width="0.8"/>
<line x1="581" x2="586.4" y1="277.2" y2="277.2" stroke="#fff" stroke-opacity="0.7" stroke-width="0.8"/>
<text x="592.4" y="282.2" class="lg">40</text>
<line x1="559.6" x2="565" y1="301.8" y2="301.8" stroke="#fff" stroke-opacity="0.7" stroke-width="0.8"/>
<line x1="581" x2="586.4" y1="301.8" y2="301.8" stroke="#fff" stroke-opacity="0.7" stroke-width="0.8"/>
<text x="592.4" y="306.8" class="lg">30</text>
<line x1="559.6" x2="565" y1="326.6" y2="326.6" stroke="#fff" stroke-opacity="0.7" stroke-width="0.8"/>
<line x1="581" x2="586.4" y1="326.6" y2="326.6" stroke="#fff" stroke-opacity="0.7" stroke-width="0.8"/>
<text x="592.4" y="331.6" class="lg">20</text>
</svg>
</body></html>
